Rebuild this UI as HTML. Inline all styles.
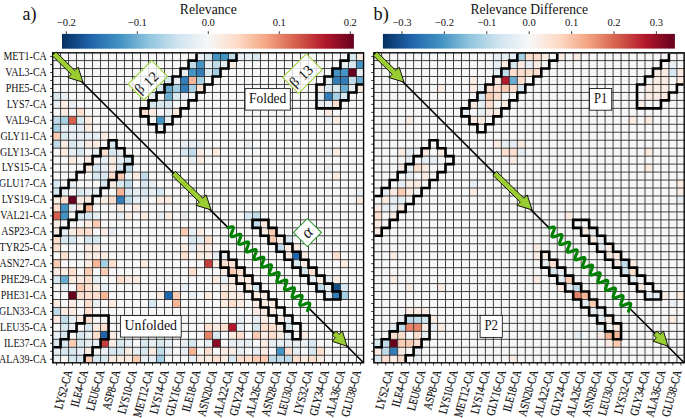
<!DOCTYPE html>
<html><head><meta charset="utf-8"><style>
html,body{margin:0;padding:0;background:#fff;width:685px;height:418px;overflow:hidden}
svg{display:block}
text{font-family:"Liberation Serif",serif;fill:#111}
.xl{stroke:#111;stroke-width:0.18px}
</style></head><body>
<svg width="685" height="418" viewBox="0 0 685 418">
<rect width="685" height="418" fill="#fff"/>
<clipPath id="clip52"><rect x="52.75" y="52.8" width="310.85" height="310"/></clipPath>
<g clip-path="url(#clip52)">
<rect x="52.57" y="52.62" width="311.88" height="310.6" fill="#f7f7f7"/>
<rect x="196.52" y="52.62" width="8.02" height="7.98" fill="#e7eff4"/>
<rect x="204.51" y="52.62" width="8.02" height="7.98" fill="#d7e8f1"/>
<rect x="212.51" y="52.62" width="8.02" height="7.98" fill="#4393c3"/>
<rect x="220.51" y="52.62" width="8.02" height="7.98" fill="#4393c3"/>
<rect x="228.5" y="52.62" width="8.02" height="7.98" fill="#c0dceb"/>
<rect x="236.5" y="52.62" width="8.02" height="7.98" fill="#e7eff4"/>
<rect x="244.5" y="52.62" width="8.02" height="7.98" fill="#e7eff4"/>
<rect x="252.5" y="52.62" width="8.02" height="7.98" fill="#d7e8f1"/>
<rect x="348.46" y="52.62" width="8.02" height="7.98" fill="#d7e8f1"/>
<rect x="356.46" y="52.62" width="8.02" height="7.98" fill="#faebe3"/>
<rect x="188.52" y="60.58" width="8.02" height="7.98" fill="#c0dceb"/>
<rect x="196.52" y="60.58" width="8.02" height="7.98" fill="#4393c3"/>
<rect x="204.51" y="60.58" width="8.02" height="7.98" fill="#e7eff4"/>
<rect x="212.51" y="60.58" width="8.02" height="7.98" fill="#c0dceb"/>
<rect x="220.51" y="60.58" width="8.02" height="7.98" fill="#e7eff4"/>
<rect x="228.5" y="60.58" width="8.02" height="7.98" fill="#faebe3"/>
<rect x="340.46" y="60.58" width="8.02" height="7.98" fill="#e7eff4"/>
<rect x="348.46" y="60.58" width="8.02" height="7.98" fill="#d7e8f1"/>
<rect x="356.46" y="60.58" width="8.02" height="7.98" fill="#4393c3"/>
<rect x="180.52" y="68.55" width="8.02" height="7.98" fill="#e7eff4"/>
<rect x="188.52" y="68.55" width="8.02" height="7.98" fill="#4393c3"/>
<rect x="196.52" y="68.55" width="8.02" height="7.98" fill="#327cb8"/>
<rect x="204.51" y="68.55" width="8.02" height="7.98" fill="#d7e8f1"/>
<rect x="212.51" y="68.55" width="8.02" height="7.98" fill="#a5cfe3"/>
<rect x="332.46" y="68.55" width="8.02" height="7.98" fill="#4393c3"/>
<rect x="340.46" y="68.55" width="8.02" height="7.98" fill="#4393c3"/>
<rect x="348.46" y="68.55" width="8.02" height="7.98" fill="#67001f"/>
<rect x="356.46" y="68.55" width="8.02" height="7.98" fill="#e7eff4"/>
<rect x="164.53" y="76.51" width="8.02" height="7.98" fill="#d7e8f1"/>
<rect x="172.53" y="76.51" width="8.02" height="7.98" fill="#e7eff4"/>
<rect x="180.52" y="76.51" width="8.02" height="7.98" fill="#327cb8"/>
<rect x="188.52" y="76.51" width="8.02" height="7.98" fill="#f7b597"/>
<rect x="196.52" y="76.51" width="8.02" height="7.98" fill="#a5cfe3"/>
<rect x="324.47" y="76.51" width="8.02" height="7.98" fill="#e7eff4"/>
<rect x="332.46" y="76.51" width="8.02" height="7.98" fill="#327cb8"/>
<rect x="340.46" y="76.51" width="8.02" height="7.98" fill="#327cb8"/>
<rect x="348.46" y="76.51" width="8.02" height="7.98" fill="#c0dceb"/>
<rect x="356.46" y="76.51" width="8.02" height="7.98" fill="#6aacd0"/>
<rect x="156.53" y="84.48" width="8.02" height="7.98" fill="#d7e8f1"/>
<rect x="164.53" y="84.48" width="8.02" height="7.98" fill="#6aacd0"/>
<rect x="172.53" y="84.48" width="8.02" height="7.98" fill="#a5cfe3"/>
<rect x="180.52" y="84.48" width="8.02" height="7.98" fill="#327cb8"/>
<rect x="188.52" y="84.48" width="8.02" height="7.98" fill="#a5cfe3"/>
<rect x="196.52" y="84.48" width="8.02" height="7.98" fill="#fcdfce"/>
<rect x="316.47" y="84.48" width="8.02" height="7.98" fill="#faebe3"/>
<rect x="324.47" y="84.48" width="8.02" height="7.98" fill="#d7e8f1"/>
<rect x="332.46" y="84.48" width="8.02" height="7.98" fill="#d7e8f1"/>
<rect x="340.46" y="84.48" width="8.02" height="7.98" fill="#6aacd0"/>
<rect x="348.46" y="84.48" width="8.02" height="7.98" fill="#e7eff4"/>
<rect x="356.46" y="84.48" width="8.02" height="7.98" fill="#faebe3"/>
<rect x="52.57" y="92.44" width="8.02" height="7.98" fill="#d7e8f1"/>
<rect x="60.57" y="92.44" width="8.02" height="7.98" fill="#e7eff4"/>
<rect x="148.53" y="92.44" width="8.02" height="7.98" fill="#e7eff4"/>
<rect x="164.53" y="92.44" width="8.02" height="7.98" fill="#6aacd0"/>
<rect x="172.53" y="92.44" width="8.02" height="7.98" fill="#d7e8f1"/>
<rect x="180.52" y="92.44" width="8.02" height="7.98" fill="#e7eff4"/>
<rect x="316.47" y="92.44" width="8.02" height="7.98" fill="#e7eff4"/>
<rect x="324.47" y="92.44" width="8.02" height="7.98" fill="#327cb8"/>
<rect x="332.46" y="92.44" width="8.02" height="7.98" fill="#a5cfe3"/>
<rect x="340.46" y="92.44" width="8.02" height="7.98" fill="#d7e8f1"/>
<rect x="52.57" y="100.4" width="8.02" height="7.98" fill="#e7eff4"/>
<rect x="60.57" y="100.4" width="8.02" height="7.98" fill="#faebe3"/>
<rect x="68.56" y="100.4" width="8.02" height="7.98" fill="#e7eff4"/>
<rect x="148.53" y="100.4" width="8.02" height="7.98" fill="#d7e8f1"/>
<rect x="156.53" y="100.4" width="8.02" height="7.98" fill="#d7e8f1"/>
<rect x="164.53" y="100.4" width="8.02" height="7.98" fill="#d7e8f1"/>
<rect x="316.47" y="100.4" width="8.02" height="7.98" fill="#e7eff4"/>
<rect x="324.47" y="100.4" width="8.02" height="7.98" fill="#e7eff4"/>
<rect x="332.46" y="100.4" width="8.02" height="7.98" fill="#fcdfce"/>
<rect x="60.57" y="108.37" width="8.02" height="7.98" fill="#faebe3"/>
<rect x="76.56" y="108.37" width="8.02" height="7.98" fill="#fcdfce"/>
<rect x="140.54" y="108.37" width="8.02" height="7.98" fill="#fcdfce"/>
<rect x="148.53" y="108.37" width="8.02" height="7.98" fill="#faebe3"/>
<rect x="164.53" y="108.37" width="8.02" height="7.98" fill="#e7eff4"/>
<rect x="172.53" y="108.37" width="8.02" height="7.98" fill="#faebe3"/>
<rect x="324.47" y="108.37" width="8.02" height="7.98" fill="#faebe3"/>
<rect x="52.57" y="116.33" width="8.02" height="7.98" fill="#c0dceb"/>
<rect x="60.57" y="116.33" width="8.02" height="7.98" fill="#a5cfe3"/>
<rect x="68.56" y="116.33" width="8.02" height="7.98" fill="#d6604d"/>
<rect x="76.56" y="116.33" width="8.02" height="7.98" fill="#d7e8f1"/>
<rect x="84.56" y="116.33" width="8.02" height="7.98" fill="#faebe3"/>
<rect x="156.53" y="116.33" width="8.02" height="7.98" fill="#4393c3"/>
<rect x="164.53" y="116.33" width="8.02" height="7.98" fill="#e7eff4"/>
<rect x="284.48" y="116.33" width="8.02" height="7.98" fill="#e7eff4"/>
<rect x="324.47" y="116.33" width="8.02" height="7.98" fill="#e7eff4"/>
<rect x="332.46" y="116.33" width="8.02" height="7.98" fill="#faebe3"/>
<rect x="52.57" y="124.3" width="8.02" height="7.98" fill="#a5cfe3"/>
<rect x="60.57" y="124.3" width="8.02" height="7.98" fill="#e7eff4"/>
<rect x="68.56" y="124.3" width="8.02" height="7.98" fill="#e7eff4"/>
<rect x="76.56" y="124.3" width="8.02" height="7.98" fill="#e7eff4"/>
<rect x="84.56" y="124.3" width="8.02" height="7.98" fill="#faebe3"/>
<rect x="156.53" y="124.3" width="8.02" height="7.98" fill="#e7eff4"/>
<rect x="52.57" y="132.26" width="8.02" height="7.98" fill="#fbccb4"/>
<rect x="60.57" y="132.26" width="8.02" height="7.98" fill="#d7e8f1"/>
<rect x="68.56" y="132.26" width="8.02" height="7.98" fill="#e7eff4"/>
<rect x="76.56" y="132.26" width="8.02" height="7.98" fill="#e7eff4"/>
<rect x="84.56" y="132.26" width="8.02" height="7.98" fill="#e7eff4"/>
<rect x="92.56" y="132.26" width="8.02" height="7.98" fill="#e7eff4"/>
<rect x="100.55" y="132.26" width="8.02" height="7.98" fill="#faebe3"/>
<rect x="52.57" y="140.22" width="8.02" height="7.98" fill="#c0dceb"/>
<rect x="60.57" y="140.22" width="8.02" height="7.98" fill="#faebe3"/>
<rect x="68.56" y="140.22" width="8.02" height="7.98" fill="#d7e8f1"/>
<rect x="76.56" y="140.22" width="8.02" height="7.98" fill="#e7eff4"/>
<rect x="84.56" y="140.22" width="8.02" height="7.98" fill="#faebe3"/>
<rect x="92.56" y="140.22" width="8.02" height="7.98" fill="#faebe3"/>
<rect x="108.55" y="140.22" width="8.02" height="7.98" fill="#d7e8f1"/>
<rect x="180.52" y="140.22" width="8.02" height="7.98" fill="#e7eff4"/>
<rect x="188.52" y="140.22" width="8.02" height="7.98" fill="#e7eff4"/>
<rect x="196.52" y="140.22" width="8.02" height="7.98" fill="#e7eff4"/>
<rect x="244.5" y="140.22" width="8.02" height="7.98" fill="#e7eff4"/>
<rect x="60.57" y="148.19" width="8.02" height="7.98" fill="#faebe3"/>
<rect x="68.56" y="148.19" width="8.02" height="7.98" fill="#e7eff4"/>
<rect x="76.56" y="148.19" width="8.02" height="7.98" fill="#d7e8f1"/>
<rect x="92.56" y="148.19" width="8.02" height="7.98" fill="#e7eff4"/>
<rect x="100.55" y="148.19" width="8.02" height="7.98" fill="#fcdfce"/>
<rect x="108.55" y="148.19" width="8.02" height="7.98" fill="#d7e8f1"/>
<rect x="116.55" y="148.19" width="8.02" height="7.98" fill="#e7eff4"/>
<rect x="180.52" y="148.19" width="8.02" height="7.98" fill="#d7e8f1"/>
<rect x="188.52" y="148.19" width="8.02" height="7.98" fill="#c0dceb"/>
<rect x="196.52" y="148.19" width="8.02" height="7.98" fill="#faebe3"/>
<rect x="212.51" y="148.19" width="8.02" height="7.98" fill="#faebe3"/>
<rect x="324.47" y="148.19" width="8.02" height="7.98" fill="#e7eff4"/>
<rect x="332.46" y="148.19" width="8.02" height="7.98" fill="#faebe3"/>
<rect x="68.56" y="156.15" width="8.02" height="7.98" fill="#faebe3"/>
<rect x="84.56" y="156.15" width="8.02" height="7.98" fill="#faebe3"/>
<rect x="100.55" y="156.15" width="8.02" height="7.98" fill="#e7eff4"/>
<rect x="108.55" y="156.15" width="8.02" height="7.98" fill="#faebe3"/>
<rect x="116.55" y="156.15" width="8.02" height="7.98" fill="#e7eff4"/>
<rect x="124.54" y="156.15" width="8.02" height="7.98" fill="#d7e8f1"/>
<rect x="188.52" y="156.15" width="8.02" height="7.98" fill="#e7eff4"/>
<rect x="196.52" y="156.15" width="8.02" height="7.98" fill="#faebe3"/>
<rect x="84.56" y="164.12" width="8.02" height="7.98" fill="#faebe3"/>
<rect x="92.56" y="164.12" width="8.02" height="7.98" fill="#d7e8f1"/>
<rect x="100.55" y="164.12" width="8.02" height="7.98" fill="#e7eff4"/>
<rect x="108.55" y="164.12" width="8.02" height="7.98" fill="#faebe3"/>
<rect x="116.55" y="164.12" width="8.02" height="7.98" fill="#d7e8f1"/>
<rect x="124.54" y="164.12" width="8.02" height="7.98" fill="#c0dceb"/>
<rect x="324.47" y="164.12" width="8.02" height="7.98" fill="#e7eff4"/>
<rect x="92.56" y="172.08" width="8.02" height="7.98" fill="#d7e8f1"/>
<rect x="100.55" y="172.08" width="8.02" height="7.98" fill="#d7e8f1"/>
<rect x="108.55" y="172.08" width="8.02" height="7.98" fill="#fcdfce"/>
<rect x="116.55" y="172.08" width="8.02" height="7.98" fill="#fbccb4"/>
<rect x="124.54" y="172.08" width="8.02" height="7.98" fill="#e7eff4"/>
<rect x="132.54" y="172.08" width="8.02" height="7.98" fill="#faebe3"/>
<rect x="140.54" y="172.08" width="8.02" height="7.98" fill="#c0dceb"/>
<rect x="332.46" y="172.08" width="8.02" height="7.98" fill="#faebe3"/>
<rect x="52.57" y="180.04" width="8.02" height="7.98" fill="#d7e8f1"/>
<rect x="68.56" y="180.04" width="8.02" height="7.98" fill="#e7eff4"/>
<rect x="100.55" y="180.04" width="8.02" height="7.98" fill="#d7e8f1"/>
<rect x="108.55" y="180.04" width="8.02" height="7.98" fill="#faebe3"/>
<rect x="116.55" y="180.04" width="8.02" height="7.98" fill="#d7e8f1"/>
<rect x="124.54" y="180.04" width="8.02" height="7.98" fill="#c0dceb"/>
<rect x="140.54" y="180.04" width="8.02" height="7.98" fill="#d7e8f1"/>
<rect x="148.53" y="180.04" width="8.02" height="7.98" fill="#e7eff4"/>
<rect x="52.57" y="188.01" width="8.02" height="7.98" fill="#d7e8f1"/>
<rect x="60.57" y="188.01" width="8.02" height="7.98" fill="#e7eff4"/>
<rect x="76.56" y="188.01" width="8.02" height="7.98" fill="#d7e8f1"/>
<rect x="84.56" y="188.01" width="8.02" height="7.98" fill="#e7eff4"/>
<rect x="92.56" y="188.01" width="8.02" height="7.98" fill="#e7eff4"/>
<rect x="116.55" y="188.01" width="8.02" height="7.98" fill="#f7b597"/>
<rect x="124.54" y="188.01" width="8.02" height="7.98" fill="#d7e8f1"/>
<rect x="132.54" y="188.01" width="8.02" height="7.98" fill="#e7eff4"/>
<rect x="140.54" y="188.01" width="8.02" height="7.98" fill="#d7e8f1"/>
<rect x="148.53" y="188.01" width="8.02" height="7.98" fill="#e7eff4"/>
<rect x="156.53" y="188.01" width="8.02" height="7.98" fill="#d7e8f1"/>
<rect x="356.46" y="188.01" width="8.02" height="7.98" fill="#e7eff4"/>
<rect x="52.57" y="195.97" width="8.02" height="7.98" fill="#faebe3"/>
<rect x="60.57" y="195.97" width="8.02" height="7.98" fill="#fcdfce"/>
<rect x="68.56" y="195.97" width="8.02" height="7.98" fill="#67001f"/>
<rect x="76.56" y="195.97" width="8.02" height="7.98" fill="#faebe3"/>
<rect x="84.56" y="195.97" width="8.02" height="7.98" fill="#faebe3"/>
<rect x="100.55" y="195.97" width="8.02" height="7.98" fill="#faebe3"/>
<rect x="108.55" y="195.97" width="8.02" height="7.98" fill="#fcdfce"/>
<rect x="116.55" y="195.97" width="8.02" height="7.98" fill="#327cb8"/>
<rect x="124.54" y="195.97" width="8.02" height="7.98" fill="#c0dceb"/>
<rect x="132.54" y="195.97" width="8.02" height="7.98" fill="#e7eff4"/>
<rect x="140.54" y="195.97" width="8.02" height="7.98" fill="#e7eff4"/>
<rect x="156.53" y="195.97" width="8.02" height="7.98" fill="#faebe3"/>
<rect x="164.53" y="195.97" width="8.02" height="7.98" fill="#faebe3"/>
<rect x="356.46" y="195.97" width="8.02" height="7.98" fill="#faebe3"/>
<rect x="52.57" y="203.94" width="8.02" height="7.98" fill="#fcdfce"/>
<rect x="60.57" y="203.94" width="8.02" height="7.98" fill="#4393c3"/>
<rect x="68.56" y="203.94" width="8.02" height="7.98" fill="#e7eff4"/>
<rect x="76.56" y="203.94" width="8.02" height="7.98" fill="#faebe3"/>
<rect x="84.56" y="203.94" width="8.02" height="7.98" fill="#f7b597"/>
<rect x="116.55" y="203.94" width="8.02" height="7.98" fill="#faebe3"/>
<rect x="132.54" y="203.94" width="8.02" height="7.98" fill="#faebe3"/>
<rect x="52.57" y="211.9" width="8.02" height="7.98" fill="#d6604d"/>
<rect x="60.57" y="211.9" width="8.02" height="7.98" fill="#4393c3"/>
<rect x="76.56" y="211.9" width="8.02" height="7.98" fill="#d7e8f1"/>
<rect x="84.56" y="211.9" width="8.02" height="7.98" fill="#d7e8f1"/>
<rect x="92.56" y="211.9" width="8.02" height="7.98" fill="#e7eff4"/>
<rect x="116.55" y="211.9" width="8.02" height="7.98" fill="#e7eff4"/>
<rect x="124.54" y="211.9" width="8.02" height="7.98" fill="#faebe3"/>
<rect x="140.54" y="211.9" width="8.02" height="7.98" fill="#faebe3"/>
<rect x="156.53" y="211.9" width="8.02" height="7.98" fill="#e7eff4"/>
<rect x="164.53" y="211.9" width="8.02" height="7.98" fill="#faebe3"/>
<rect x="180.52" y="211.9" width="8.02" height="7.98" fill="#e7eff4"/>
<rect x="244.5" y="211.9" width="8.02" height="7.98" fill="#d7e8f1"/>
<rect x="252.5" y="211.9" width="8.02" height="7.98" fill="#c0dceb"/>
<rect x="52.57" y="219.86" width="8.02" height="7.98" fill="#faebe3"/>
<rect x="84.56" y="219.86" width="8.02" height="7.98" fill="#faebe3"/>
<rect x="92.56" y="219.86" width="8.02" height="7.98" fill="#fbccb4"/>
<rect x="252.5" y="219.86" width="8.02" height="7.98" fill="#c0dceb"/>
<rect x="260.49" y="219.86" width="8.02" height="7.98" fill="#faebe3"/>
<rect x="52.57" y="227.83" width="8.02" height="7.98" fill="#faebe3"/>
<rect x="60.57" y="227.83" width="8.02" height="7.98" fill="#e7eff4"/>
<rect x="68.56" y="227.83" width="8.02" height="7.98" fill="#faebe3"/>
<rect x="76.56" y="227.83" width="8.02" height="7.98" fill="#fcdfce"/>
<rect x="84.56" y="227.83" width="8.02" height="7.98" fill="#fcdfce"/>
<rect x="100.55" y="227.83" width="8.02" height="7.98" fill="#faebe3"/>
<rect x="108.55" y="227.83" width="8.02" height="7.98" fill="#e7eff4"/>
<rect x="180.52" y="227.83" width="8.02" height="7.98" fill="#fbccb4"/>
<rect x="188.52" y="227.83" width="8.02" height="7.98" fill="#e7eff4"/>
<rect x="196.52" y="227.83" width="8.02" height="7.98" fill="#faebe3"/>
<rect x="260.49" y="227.83" width="8.02" height="7.98" fill="#faebe3"/>
<rect x="268.49" y="227.83" width="8.02" height="7.98" fill="#fbccb4"/>
<rect x="52.57" y="235.79" width="8.02" height="7.98" fill="#fcdfce"/>
<rect x="60.57" y="235.79" width="8.02" height="7.98" fill="#d7e8f1"/>
<rect x="68.56" y="235.79" width="8.02" height="7.98" fill="#d7e8f1"/>
<rect x="84.56" y="235.79" width="8.02" height="7.98" fill="#d7e8f1"/>
<rect x="92.56" y="235.79" width="8.02" height="7.98" fill="#d7e8f1"/>
<rect x="188.52" y="235.79" width="8.02" height="7.98" fill="#d7e8f1"/>
<rect x="196.52" y="235.79" width="8.02" height="7.98" fill="#e7eff4"/>
<rect x="204.51" y="235.79" width="8.02" height="7.98" fill="#fcdfce"/>
<rect x="268.49" y="235.79" width="8.02" height="7.98" fill="#fbccb4"/>
<rect x="276.49" y="235.79" width="8.02" height="7.98" fill="#faebe3"/>
<rect x="284.48" y="235.79" width="8.02" height="7.98" fill="#d7e8f1"/>
<rect x="52.57" y="243.76" width="8.02" height="7.98" fill="#fcdfce"/>
<rect x="84.56" y="243.76" width="8.02" height="7.98" fill="#faebe3"/>
<rect x="92.56" y="243.76" width="8.02" height="7.98" fill="#faebe3"/>
<rect x="180.52" y="243.76" width="8.02" height="7.98" fill="#faebe3"/>
<rect x="188.52" y="243.76" width="8.02" height="7.98" fill="#e7eff4"/>
<rect x="196.52" y="243.76" width="8.02" height="7.98" fill="#faebe3"/>
<rect x="204.51" y="243.76" width="8.02" height="7.98" fill="#faebe3"/>
<rect x="276.49" y="243.76" width="8.02" height="7.98" fill="#c0dceb"/>
<rect x="284.48" y="243.76" width="8.02" height="7.98" fill="#faebe3"/>
<rect x="292.48" y="243.76" width="8.02" height="7.98" fill="#faebe3"/>
<rect x="60.57" y="251.72" width="8.02" height="7.98" fill="#fcdfce"/>
<rect x="84.56" y="251.72" width="8.02" height="7.98" fill="#faebe3"/>
<rect x="92.56" y="251.72" width="8.02" height="7.98" fill="#faebe3"/>
<rect x="100.55" y="251.72" width="8.02" height="7.98" fill="#faebe3"/>
<rect x="180.52" y="251.72" width="8.02" height="7.98" fill="#fcdfce"/>
<rect x="196.52" y="251.72" width="8.02" height="7.98" fill="#faebe3"/>
<rect x="204.51" y="251.72" width="8.02" height="7.98" fill="#faebe3"/>
<rect x="212.51" y="251.72" width="8.02" height="7.98" fill="#e7eff4"/>
<rect x="220.51" y="251.72" width="8.02" height="7.98" fill="#e7eff4"/>
<rect x="284.48" y="251.72" width="8.02" height="7.98" fill="#faebe3"/>
<rect x="292.48" y="251.72" width="8.02" height="7.98" fill="#2166ac"/>
<rect x="300.48" y="251.72" width="8.02" height="7.98" fill="#faebe3"/>
<rect x="332.46" y="251.72" width="8.02" height="7.98" fill="#fcdfce"/>
<rect x="52.57" y="259.68" width="8.02" height="7.98" fill="#fbccb4"/>
<rect x="84.56" y="259.68" width="8.02" height="7.98" fill="#faebe3"/>
<rect x="92.56" y="259.68" width="8.02" height="7.98" fill="#f7b597"/>
<rect x="100.55" y="259.68" width="8.02" height="7.98" fill="#a5cfe3"/>
<rect x="108.55" y="259.68" width="8.02" height="7.98" fill="#fcdfce"/>
<rect x="140.54" y="259.68" width="8.02" height="7.98" fill="#faebe3"/>
<rect x="204.51" y="259.68" width="8.02" height="7.98" fill="#c43c3c"/>
<rect x="212.51" y="259.68" width="8.02" height="7.98" fill="#faebe3"/>
<rect x="220.51" y="259.68" width="8.02" height="7.98" fill="#fcdfce"/>
<rect x="228.5" y="259.68" width="8.02" height="7.98" fill="#fcdfce"/>
<rect x="292.48" y="259.68" width="8.02" height="7.98" fill="#d7e8f1"/>
<rect x="300.48" y="259.68" width="8.02" height="7.98" fill="#faebe3"/>
<rect x="340.46" y="259.68" width="8.02" height="7.98" fill="#faebe3"/>
<rect x="52.57" y="267.65" width="8.02" height="7.98" fill="#faebe3"/>
<rect x="60.57" y="267.65" width="8.02" height="7.98" fill="#faebe3"/>
<rect x="68.56" y="267.65" width="8.02" height="7.98" fill="#fcdfce"/>
<rect x="84.56" y="267.65" width="8.02" height="7.98" fill="#fbccb4"/>
<rect x="100.55" y="267.65" width="8.02" height="7.98" fill="#fbccb4"/>
<rect x="188.52" y="267.65" width="8.02" height="7.98" fill="#fcdfce"/>
<rect x="220.51" y="267.65" width="8.02" height="7.98" fill="#faebe3"/>
<rect x="228.5" y="267.65" width="8.02" height="7.98" fill="#fbccb4"/>
<rect x="236.5" y="267.65" width="8.02" height="7.98" fill="#fcdfce"/>
<rect x="300.48" y="267.65" width="8.02" height="7.98" fill="#d7e8f1"/>
<rect x="308.47" y="267.65" width="8.02" height="7.98" fill="#fcdfce"/>
<rect x="52.57" y="275.61" width="8.02" height="7.98" fill="#d7e8f1"/>
<rect x="60.57" y="275.61" width="8.02" height="7.98" fill="#6aacd0"/>
<rect x="68.56" y="275.61" width="8.02" height="7.98" fill="#faebe3"/>
<rect x="76.56" y="275.61" width="8.02" height="7.98" fill="#faebe3"/>
<rect x="84.56" y="275.61" width="8.02" height="7.98" fill="#fcdfce"/>
<rect x="92.56" y="275.61" width="8.02" height="7.98" fill="#e7eff4"/>
<rect x="116.55" y="275.61" width="8.02" height="7.98" fill="#fcdfce"/>
<rect x="124.54" y="275.61" width="8.02" height="7.98" fill="#faebe3"/>
<rect x="132.54" y="275.61" width="8.02" height="7.98" fill="#faebe3"/>
<rect x="212.51" y="275.61" width="8.02" height="7.98" fill="#faebe3"/>
<rect x="220.51" y="275.61" width="8.02" height="7.98" fill="#e7eff4"/>
<rect x="228.5" y="275.61" width="8.02" height="7.98" fill="#faebe3"/>
<rect x="236.5" y="275.61" width="8.02" height="7.98" fill="#faebe3"/>
<rect x="244.5" y="275.61" width="8.02" height="7.98" fill="#faebe3"/>
<rect x="308.47" y="275.61" width="8.02" height="7.98" fill="#e7eff4"/>
<rect x="316.47" y="275.61" width="8.02" height="7.98" fill="#faebe3"/>
<rect x="324.47" y="275.61" width="8.02" height="7.98" fill="#e7eff4"/>
<rect x="332.46" y="275.61" width="8.02" height="7.98" fill="#faebe3"/>
<rect x="60.57" y="283.58" width="8.02" height="7.98" fill="#e7eff4"/>
<rect x="76.56" y="283.58" width="8.02" height="7.98" fill="#fbccb4"/>
<rect x="84.56" y="283.58" width="8.02" height="7.98" fill="#fcdfce"/>
<rect x="92.56" y="283.58" width="8.02" height="7.98" fill="#faebe3"/>
<rect x="100.55" y="283.58" width="8.02" height="7.98" fill="#e7eff4"/>
<rect x="180.52" y="283.58" width="8.02" height="7.98" fill="#e7eff4"/>
<rect x="220.51" y="283.58" width="8.02" height="7.98" fill="#faebe3"/>
<rect x="228.5" y="283.58" width="8.02" height="7.98" fill="#faebe3"/>
<rect x="244.5" y="283.58" width="8.02" height="7.98" fill="#faebe3"/>
<rect x="252.5" y="283.58" width="8.02" height="7.98" fill="#d7e8f1"/>
<rect x="316.47" y="283.58" width="8.02" height="7.98" fill="#c0dceb"/>
<rect x="324.47" y="283.58" width="8.02" height="7.98" fill="#e7eff4"/>
<rect x="332.46" y="283.58" width="8.02" height="7.98" fill="#134b86"/>
<rect x="340.46" y="283.58" width="8.02" height="7.98" fill="#d7e8f1"/>
<rect x="68.56" y="291.54" width="8.02" height="7.98" fill="#67001f"/>
<rect x="76.56" y="291.54" width="8.02" height="7.98" fill="#fcdfce"/>
<rect x="84.56" y="291.54" width="8.02" height="7.98" fill="#fcdfce"/>
<rect x="92.56" y="291.54" width="8.02" height="7.98" fill="#fcdfce"/>
<rect x="100.55" y="291.54" width="8.02" height="7.98" fill="#f7b597"/>
<rect x="156.53" y="291.54" width="8.02" height="7.98" fill="#faebe3"/>
<rect x="164.53" y="291.54" width="8.02" height="7.98" fill="#2166ac"/>
<rect x="172.53" y="291.54" width="8.02" height="7.98" fill="#fbccb4"/>
<rect x="188.52" y="291.54" width="8.02" height="7.98" fill="#e7eff4"/>
<rect x="204.51" y="291.54" width="8.02" height="7.98" fill="#faebe3"/>
<rect x="220.51" y="291.54" width="8.02" height="7.98" fill="#fcdfce"/>
<rect x="228.5" y="291.54" width="8.02" height="7.98" fill="#faebe3"/>
<rect x="236.5" y="291.54" width="8.02" height="7.98" fill="#faebe3"/>
<rect x="252.5" y="291.54" width="8.02" height="7.98" fill="#faebe3"/>
<rect x="260.49" y="291.54" width="8.02" height="7.98" fill="#faebe3"/>
<rect x="324.47" y="291.54" width="8.02" height="7.98" fill="#e7eff4"/>
<rect x="332.46" y="291.54" width="8.02" height="7.98" fill="#327cb8"/>
<rect x="340.46" y="291.54" width="8.02" height="7.98" fill="#a5cfe3"/>
<rect x="52.57" y="299.5" width="8.02" height="7.98" fill="#faebe3"/>
<rect x="68.56" y="299.5" width="8.02" height="7.98" fill="#faebe3"/>
<rect x="84.56" y="299.5" width="8.02" height="7.98" fill="#fcdfce"/>
<rect x="92.56" y="299.5" width="8.02" height="7.98" fill="#e7eff4"/>
<rect x="108.55" y="299.5" width="8.02" height="7.98" fill="#faebe3"/>
<rect x="148.53" y="299.5" width="8.02" height="7.98" fill="#d7e8f1"/>
<rect x="172.53" y="299.5" width="8.02" height="7.98" fill="#f7b597"/>
<rect x="220.51" y="299.5" width="8.02" height="7.98" fill="#faebe3"/>
<rect x="228.5" y="299.5" width="8.02" height="7.98" fill="#fcdfce"/>
<rect x="236.5" y="299.5" width="8.02" height="7.98" fill="#faebe3"/>
<rect x="252.5" y="299.5" width="8.02" height="7.98" fill="#faebe3"/>
<rect x="260.49" y="299.5" width="8.02" height="7.98" fill="#faebe3"/>
<rect x="268.49" y="299.5" width="8.02" height="7.98" fill="#faebe3"/>
<rect x="52.57" y="307.47" width="8.02" height="7.98" fill="#c0dceb"/>
<rect x="60.57" y="307.47" width="8.02" height="7.98" fill="#faebe3"/>
<rect x="68.56" y="307.47" width="8.02" height="7.98" fill="#faebe3"/>
<rect x="84.56" y="307.47" width="8.02" height="7.98" fill="#fcdfce"/>
<rect x="252.5" y="307.47" width="8.02" height="7.98" fill="#faebe3"/>
<rect x="260.49" y="307.47" width="8.02" height="7.98" fill="#faebe3"/>
<rect x="268.49" y="307.47" width="8.02" height="7.98" fill="#faebe3"/>
<rect x="52.57" y="315.43" width="8.02" height="7.98" fill="#faebe3"/>
<rect x="60.57" y="315.43" width="8.02" height="7.98" fill="#c0dceb"/>
<rect x="68.56" y="315.43" width="8.02" height="7.98" fill="#e7eff4"/>
<rect x="76.56" y="315.43" width="8.02" height="7.98" fill="#faebe3"/>
<rect x="84.56" y="315.43" width="8.02" height="7.98" fill="#fcdfce"/>
<rect x="236.5" y="315.43" width="8.02" height="7.98" fill="#e7eff4"/>
<rect x="252.5" y="315.43" width="8.02" height="7.98" fill="#e7eff4"/>
<rect x="260.49" y="315.43" width="8.02" height="7.98" fill="#faebe3"/>
<rect x="276.49" y="315.43" width="8.02" height="7.98" fill="#faebe3"/>
<rect x="284.48" y="315.43" width="8.02" height="7.98" fill="#e7eff4"/>
<rect x="60.57" y="323.4" width="8.02" height="7.98" fill="#d7e8f1"/>
<rect x="68.56" y="323.4" width="8.02" height="7.98" fill="#e7eff4"/>
<rect x="84.56" y="323.4" width="8.02" height="7.98" fill="#d7e8f1"/>
<rect x="92.56" y="323.4" width="8.02" height="7.98" fill="#faebe3"/>
<rect x="100.55" y="323.4" width="8.02" height="7.98" fill="#fcdfce"/>
<rect x="204.51" y="323.4" width="8.02" height="7.98" fill="#fcdfce"/>
<rect x="212.51" y="323.4" width="8.02" height="7.98" fill="#faebe3"/>
<rect x="220.51" y="323.4" width="8.02" height="7.98" fill="#fcdfce"/>
<rect x="228.5" y="323.4" width="8.02" height="7.98" fill="#b2182b"/>
<rect x="236.5" y="323.4" width="8.02" height="7.98" fill="#e7eff4"/>
<rect x="252.5" y="323.4" width="8.02" height="7.98" fill="#d7e8f1"/>
<rect x="260.49" y="323.4" width="8.02" height="7.98" fill="#fcdfce"/>
<rect x="268.49" y="323.4" width="8.02" height="7.98" fill="#fcdfce"/>
<rect x="276.49" y="323.4" width="8.02" height="7.98" fill="#faebe3"/>
<rect x="284.48" y="323.4" width="8.02" height="7.98" fill="#d7e8f1"/>
<rect x="52.57" y="331.36" width="8.02" height="7.98" fill="#e7eff4"/>
<rect x="60.57" y="331.36" width="8.02" height="7.98" fill="#d7e8f1"/>
<rect x="76.56" y="331.36" width="8.02" height="7.98" fill="#d7e8f1"/>
<rect x="84.56" y="331.36" width="8.02" height="7.98" fill="#e7eff4"/>
<rect x="92.56" y="331.36" width="8.02" height="7.98" fill="#fcdfce"/>
<rect x="100.55" y="331.36" width="8.02" height="7.98" fill="#2166ac"/>
<rect x="108.55" y="331.36" width="8.02" height="7.98" fill="#faebe3"/>
<rect x="204.51" y="331.36" width="8.02" height="7.98" fill="#e58268"/>
<rect x="212.51" y="331.36" width="8.02" height="7.98" fill="#d7e8f1"/>
<rect x="228.5" y="331.36" width="8.02" height="7.98" fill="#faebe3"/>
<rect x="236.5" y="331.36" width="8.02" height="7.98" fill="#fcdfce"/>
<rect x="252.5" y="331.36" width="8.02" height="7.98" fill="#fbccb4"/>
<rect x="260.49" y="331.36" width="8.02" height="7.98" fill="#faebe3"/>
<rect x="268.49" y="331.36" width="8.02" height="7.98" fill="#fcdfce"/>
<rect x="276.49" y="331.36" width="8.02" height="7.98" fill="#faebe3"/>
<rect x="284.48" y="331.36" width="8.02" height="7.98" fill="#e7eff4"/>
<rect x="300.48" y="331.36" width="8.02" height="7.98" fill="#faebe3"/>
<rect x="52.57" y="339.32" width="8.02" height="7.98" fill="#d7e8f1"/>
<rect x="60.57" y="339.32" width="8.02" height="7.98" fill="#d7e8f1"/>
<rect x="68.56" y="339.32" width="8.02" height="7.98" fill="#fbccb4"/>
<rect x="76.56" y="339.32" width="8.02" height="7.98" fill="#d7e8f1"/>
<rect x="84.56" y="339.32" width="8.02" height="7.98" fill="#e7eff4"/>
<rect x="92.56" y="339.32" width="8.02" height="7.98" fill="#e7eff4"/>
<rect x="100.55" y="339.32" width="8.02" height="7.98" fill="#c43c3c"/>
<rect x="108.55" y="339.32" width="8.02" height="7.98" fill="#faebe3"/>
<rect x="116.55" y="339.32" width="8.02" height="7.98" fill="#d7e8f1"/>
<rect x="124.54" y="339.32" width="8.02" height="7.98" fill="#e7eff4"/>
<rect x="140.54" y="339.32" width="8.02" height="7.98" fill="#d7e8f1"/>
<rect x="148.53" y="339.32" width="8.02" height="7.98" fill="#e7eff4"/>
<rect x="156.53" y="339.32" width="8.02" height="7.98" fill="#d7e8f1"/>
<rect x="164.53" y="339.32" width="8.02" height="7.98" fill="#e7eff4"/>
<rect x="180.52" y="339.32" width="8.02" height="7.98" fill="#e7eff4"/>
<rect x="188.52" y="339.32" width="8.02" height="7.98" fill="#d7e8f1"/>
<rect x="204.51" y="339.32" width="8.02" height="7.98" fill="#e7eff4"/>
<rect x="212.51" y="339.32" width="8.02" height="7.98" fill="#8c0c25"/>
<rect x="228.5" y="339.32" width="8.02" height="7.98" fill="#e7eff4"/>
<rect x="236.5" y="339.32" width="8.02" height="7.98" fill="#e7eff4"/>
<rect x="244.5" y="339.32" width="8.02" height="7.98" fill="#e7eff4"/>
<rect x="260.49" y="339.32" width="8.02" height="7.98" fill="#faebe3"/>
<rect x="268.49" y="339.32" width="8.02" height="7.98" fill="#e7eff4"/>
<rect x="276.49" y="339.32" width="8.02" height="7.98" fill="#e7eff4"/>
<rect x="284.48" y="339.32" width="8.02" height="7.98" fill="#e7eff4"/>
<rect x="292.48" y="339.32" width="8.02" height="7.98" fill="#e7eff4"/>
<rect x="300.48" y="339.32" width="8.02" height="7.98" fill="#e7eff4"/>
<rect x="308.47" y="339.32" width="8.02" height="7.98" fill="#d7e8f1"/>
<rect x="52.57" y="347.29" width="8.02" height="7.98" fill="#e7eff4"/>
<rect x="60.57" y="347.29" width="8.02" height="7.98" fill="#d7e8f1"/>
<rect x="68.56" y="347.29" width="8.02" height="7.98" fill="#d7e8f1"/>
<rect x="76.56" y="347.29" width="8.02" height="7.98" fill="#e7eff4"/>
<rect x="84.56" y="347.29" width="8.02" height="7.98" fill="#faebe3"/>
<rect x="100.55" y="347.29" width="8.02" height="7.98" fill="#e7eff4"/>
<rect x="108.55" y="347.29" width="8.02" height="7.98" fill="#d7e8f1"/>
<rect x="116.55" y="347.29" width="8.02" height="7.98" fill="#d7e8f1"/>
<rect x="124.54" y="347.29" width="8.02" height="7.98" fill="#faebe3"/>
<rect x="132.54" y="347.29" width="8.02" height="7.98" fill="#e7eff4"/>
<rect x="140.54" y="347.29" width="8.02" height="7.98" fill="#d7e8f1"/>
<rect x="148.53" y="347.29" width="8.02" height="7.98" fill="#faebe3"/>
<rect x="156.53" y="347.29" width="8.02" height="7.98" fill="#c0dceb"/>
<rect x="164.53" y="347.29" width="8.02" height="7.98" fill="#e7eff4"/>
<rect x="180.52" y="347.29" width="8.02" height="7.98" fill="#e7eff4"/>
<rect x="188.52" y="347.29" width="8.02" height="7.98" fill="#f7b597"/>
<rect x="204.51" y="347.29" width="8.02" height="7.98" fill="#fcdfce"/>
<rect x="220.51" y="347.29" width="8.02" height="7.98" fill="#faebe3"/>
<rect x="228.5" y="347.29" width="8.02" height="7.98" fill="#faebe3"/>
<rect x="236.5" y="347.29" width="8.02" height="7.98" fill="#e7eff4"/>
<rect x="252.5" y="347.29" width="8.02" height="7.98" fill="#e7eff4"/>
<rect x="260.49" y="347.29" width="8.02" height="7.98" fill="#faebe3"/>
<rect x="276.49" y="347.29" width="8.02" height="7.98" fill="#4393c3"/>
<rect x="284.48" y="347.29" width="8.02" height="7.98" fill="#fcdfce"/>
<rect x="292.48" y="347.29" width="8.02" height="7.98" fill="#e7eff4"/>
<rect x="308.47" y="347.29" width="8.02" height="7.98" fill="#d7e8f1"/>
<rect x="316.47" y="347.29" width="8.02" height="7.98" fill="#fcdfce"/>
<rect x="52.57" y="355.25" width="8.02" height="7.98" fill="#e7eff4"/>
<rect x="68.56" y="355.25" width="8.02" height="7.98" fill="#d7e8f1"/>
<rect x="76.56" y="355.25" width="8.02" height="7.98" fill="#d7e8f1"/>
<rect x="84.56" y="355.25" width="8.02" height="7.98" fill="#fbccb4"/>
<rect x="92.56" y="355.25" width="8.02" height="7.98" fill="#d7e8f1"/>
<rect x="100.55" y="355.25" width="8.02" height="7.98" fill="#d7e8f1"/>
<rect x="108.55" y="355.25" width="8.02" height="7.98" fill="#faebe3"/>
<rect x="116.55" y="355.25" width="8.02" height="7.98" fill="#faebe3"/>
<rect x="124.54" y="355.25" width="8.02" height="7.98" fill="#faebe3"/>
<rect x="132.54" y="355.25" width="8.02" height="7.98" fill="#fbccb4"/>
<rect x="140.54" y="355.25" width="8.02" height="7.98" fill="#e7eff4"/>
<rect x="148.53" y="355.25" width="8.02" height="7.98" fill="#e7eff4"/>
<rect x="156.53" y="355.25" width="8.02" height="7.98" fill="#a5cfe3"/>
<rect x="188.52" y="355.25" width="8.02" height="7.98" fill="#e7eff4"/>
<rect x="196.52" y="355.25" width="8.02" height="7.98" fill="#faebe3"/>
<rect x="204.51" y="355.25" width="8.02" height="7.98" fill="#faebe3"/>
<rect x="212.51" y="355.25" width="8.02" height="7.98" fill="#fcdfce"/>
<rect x="220.51" y="355.25" width="8.02" height="7.98" fill="#faebe3"/>
<rect x="228.5" y="355.25" width="8.02" height="7.98" fill="#d7e8f1"/>
<rect x="236.5" y="355.25" width="8.02" height="7.98" fill="#fcdfce"/>
<rect x="244.5" y="355.25" width="8.02" height="7.98" fill="#fcdfce"/>
<rect x="252.5" y="355.25" width="8.02" height="7.98" fill="#fbccb4"/>
<rect x="260.49" y="355.25" width="8.02" height="7.98" fill="#fbccb4"/>
<rect x="268.49" y="355.25" width="8.02" height="7.98" fill="#c0dceb"/>
<rect x="276.49" y="355.25" width="8.02" height="7.98" fill="#c0dceb"/>
<rect x="284.48" y="355.25" width="8.02" height="7.98" fill="#c0dceb"/>
<rect x="292.48" y="355.25" width="8.02" height="7.98" fill="#fcdfce"/>
<rect x="300.48" y="355.25" width="8.02" height="7.98" fill="#faebe3"/>
<rect x="308.47" y="355.25" width="8.02" height="7.98" fill="#fcdfce"/>
<rect x="316.47" y="355.25" width="8.02" height="7.98" fill="#faebe3"/>
<path d="M60.57 52.62V363.22M52.57 60.58H364.45M68.56 52.62V363.22M52.57 68.55H364.45M76.56 52.62V363.22M52.57 76.51H364.45M84.56 52.62V363.22M52.57 84.48H364.45M92.56 52.62V363.22M52.57 92.44H364.45M100.55 52.62V363.22M52.57 100.4H364.45M108.55 52.62V363.22M52.57 108.37H364.45M116.55 52.62V363.22M52.57 116.33H364.45M124.54 52.62V363.22M52.57 124.3H364.45M132.54 52.62V363.22M52.57 132.26H364.45M140.54 52.62V363.22M52.57 140.22H364.45M148.53 52.62V363.22M52.57 148.19H364.45M156.53 52.62V363.22M52.57 156.15H364.45M164.53 52.62V363.22M52.57 164.12H364.45M172.53 52.62V363.22M52.57 172.08H364.45M180.52 52.62V363.22M52.57 180.04H364.45M188.52 52.62V363.22M52.57 188.01H364.45M196.52 52.62V363.22M52.57 195.97H364.45M204.51 52.62V363.22M52.57 203.94H364.45M212.51 52.62V363.22M52.57 211.9H364.45M220.51 52.62V363.22M52.57 219.86H364.45M228.5 52.62V363.22M52.57 227.83H364.45M236.5 52.62V363.22M52.57 235.79H364.45M244.5 52.62V363.22M52.57 243.76H364.45M252.5 52.62V363.22M52.57 251.72H364.45M260.49 52.62V363.22M52.57 259.68H364.45M268.49 52.62V363.22M52.57 267.65H364.45M276.49 52.62V363.22M52.57 275.61H364.45M284.48 52.62V363.22M52.57 283.58H364.45M292.48 52.62V363.22M52.57 291.54H364.45M300.48 52.62V363.22M52.57 299.5H364.45M308.47 52.62V363.22M52.57 307.47H364.45M316.47 52.62V363.22M52.57 315.43H364.45M324.47 52.62V363.22M52.57 323.4H364.45M332.46 52.62V363.22M52.57 331.36H364.45M340.46 52.62V363.22M52.57 339.32H364.45M348.46 52.62V363.22M52.57 347.29H364.45M356.46 52.62V363.22M52.57 355.25H364.45" stroke="#262626" stroke-width="0.85" fill="none"/>
</g>
<clipPath id="clipo52"><rect x="53.5" y="53.55" width="309.35" height="308.5"/></clipPath>
<g clip-path="url(#clipo52)">
<path d="M148.53 100.4L156.53 100.4L156.53 92.44L164.53 92.44L164.53 84.48L172.53 84.48L172.53 76.51L180.52 76.51L180.52 68.55L188.52 68.55L188.52 60.58L196.52 60.58L196.52 52.62L236.5 52.62L236.5 60.58L228.5 60.58L228.5 68.55L220.51 68.55L220.51 76.51L212.51 76.51L212.51 84.48L204.51 84.48L204.51 92.44L196.52 92.44L196.52 100.4L188.52 100.4L188.52 108.37L180.52 108.37L180.52 116.33L172.53 116.33L172.53 124.3L164.53 124.3L164.53 132.26L156.53 132.26L156.53 124.3L148.53 124.3L148.53 116.33L140.54 116.33L140.54 108.37L148.53 108.37Z" stroke="#000" stroke-width="2.6" fill="none" stroke-linejoin="miter"/>
<path d="M84.56 164.12L92.56 164.12L92.56 156.15L100.55 156.15L100.55 148.19L108.55 148.19L108.55 140.22L116.55 140.22L116.55 148.19L124.54 148.19L124.54 156.15L132.54 156.15L132.54 164.12L124.54 164.12L124.54 172.08L116.55 172.08L116.55 180.04L108.55 180.04L108.55 188.01L100.55 188.01L100.55 195.97L92.56 195.97L92.56 203.94L84.56 203.94L84.56 211.9L76.56 211.9L76.56 219.86L68.56 219.86L68.56 227.83L60.57 227.83L60.57 235.79L52.57 235.79L52.57 195.97L60.57 195.97L60.57 188.01L68.56 188.01L68.56 180.04L76.56 180.04L76.56 172.08L84.56 172.08Z" stroke="#000" stroke-width="2.6" fill="none" stroke-linejoin="miter"/>
<path d="M316.47 108.37L316.47 84.48L324.47 84.48L324.47 76.51L332.46 76.51L332.46 68.55L340.46 68.55L340.46 60.58L348.46 60.58L348.46 52.62L364.45 52.62L364.45 84.48L356.46 84.48L356.46 92.44L348.46 92.44L348.46 100.4L340.46 100.4L340.46 108.37Z" stroke="#000" stroke-width="2.6" fill="none" stroke-linejoin="miter"/>
<path d="M52.57 347.29L60.57 347.29L60.57 339.32L68.56 339.32L68.56 331.36L76.56 331.36L76.56 323.4L84.56 323.4L84.56 315.43L108.55 315.43L108.55 339.32L100.55 339.32L100.55 347.29L92.56 347.29L92.56 355.25L84.56 355.25L84.56 363.22L52.57 363.22Z" stroke="#000" stroke-width="2.6" fill="none" stroke-linejoin="miter"/>
<path d="M292.48 259.68L284.48 259.68L284.48 251.72L276.49 251.72L276.49 243.76L268.49 243.76L268.49 235.79L260.49 235.79L260.49 227.83L252.5 227.83L252.5 219.86L268.49 219.86L268.49 227.83L276.49 227.83L276.49 235.79L284.48 235.79L284.48 243.76L292.48 243.76L292.48 251.72L300.48 251.72L300.48 259.68L308.47 259.68L308.47 267.65L316.47 267.65L316.47 275.61L324.47 275.61L324.47 283.58L332.46 283.58L332.46 291.54L340.46 291.54L340.46 299.5L324.47 299.5L324.47 291.54L316.47 291.54L316.47 283.58L308.47 283.58L308.47 275.61L300.48 275.61L300.48 267.65L292.48 267.65Z" stroke="#000" stroke-width="2.6" fill="none" stroke-linejoin="miter"/>
<path d="M300.48 339.32L292.48 339.32L292.48 331.36L284.48 331.36L284.48 323.4L276.49 323.4L276.49 315.43L268.49 315.43L268.49 307.47L260.49 307.47L260.49 299.5L252.5 299.5L252.5 291.54L244.5 291.54L244.5 283.58L236.5 283.58L236.5 275.61L228.5 275.61L228.5 267.65L220.51 267.65L220.51 251.72L228.5 251.72L228.5 259.68L236.5 259.68L236.5 267.65L244.5 267.65L244.5 275.61L252.5 275.61L252.5 283.58L260.49 283.58L260.49 291.54L268.49 291.54L268.49 299.5L276.49 299.5L276.49 307.47L284.48 307.47L284.48 315.43L292.48 315.43L292.48 323.4L300.48 323.4Z" stroke="#000" stroke-width="2.6" fill="none" stroke-linejoin="miter"/>
</g>
<rect x="52.75" y="52.8" width="310.85" height="310" fill="none" stroke="#000" stroke-width="1.35"/>
<path d="M50.15 56.6H52.75M56.57 362.8V365.4M50.15 64.57H52.75M64.57 362.8V365.4M50.15 72.53H52.75M72.56 362.8V365.4M50.15 80.49H52.75M80.56 362.8V365.4M50.15 88.46H52.75M88.56 362.8V365.4M50.15 96.42H52.75M96.55 362.8V365.4M50.15 104.39H52.75M104.55 362.8V365.4M50.15 112.35H52.75M112.55 362.8V365.4M50.15 120.31H52.75M120.54 362.8V365.4M50.15 128.28H52.75M128.54 362.8V365.4M50.15 136.24H52.75M136.54 362.8V365.4M50.15 144.21H52.75M144.54 362.8V365.4M50.15 152.17H52.75M152.53 362.8V365.4M50.15 160.13H52.75M160.53 362.8V365.4M50.15 168.1H52.75M168.53 362.8V365.4M50.15 176.06H52.75M176.52 362.8V365.4M50.15 184.03H52.75M184.52 362.8V365.4M50.15 191.99H52.75M192.52 362.8V365.4M50.15 199.95H52.75M200.51 362.8V365.4M50.15 207.92H52.75M208.51 362.8V365.4M50.15 215.88H52.75M216.51 362.8V365.4M50.15 223.85H52.75M224.51 362.8V365.4M50.15 231.81H52.75M232.5 362.8V365.4M50.15 239.77H52.75M240.5 362.8V365.4M50.15 247.74H52.75M248.5 362.8V365.4M50.15 255.7H52.75M256.49 362.8V365.4M50.15 263.67H52.75M264.49 362.8V365.4M50.15 271.63H52.75M272.49 362.8V365.4M50.15 279.59H52.75M280.48 362.8V365.4M50.15 287.56H52.75M288.48 362.8V365.4M50.15 295.52H52.75M296.48 362.8V365.4M50.15 303.49H52.75M304.48 362.8V365.4M50.15 311.45H52.75M312.47 362.8V365.4M50.15 319.41H52.75M320.47 362.8V365.4M50.15 327.38H52.75M328.47 362.8V365.4M50.15 335.34H52.75M336.46 362.8V365.4M50.15 343.31H52.75M344.46 362.8V365.4M50.15 351.27H52.75M352.46 362.8V365.4M50.15 359.23H52.75M360.45 362.8V365.4" stroke="#000" stroke-width="0.8" fill="none"/>
<path d="M52.75 52.8L228.3 227.87M309.5 308.85L363.6 362.8" stroke="#000" stroke-width="1.6" fill="none"/>
<path d="M228.3 227.87L228.97 227.6L229.63 227.35L230.26 227.12L230.86 226.93L231.41 226.78L231.9 226.7L232.32 226.68L232.67 226.74L232.94 226.87L233.14 227.08L233.26 227.36L233.3 227.73L233.27 228.16L233.18 228.66L233.03 229.22L232.83 229.82L232.6 230.46L232.35 231.12L232.08 231.79L231.81 232.47L231.57 233.12L231.34 233.75L231.16 234.34L231.03 234.88L230.96 235.36L230.95 235.77L231.02 236.11L231.16 236.37L231.38 236.55L231.68 236.66L232.06 236.69L232.51 236.65L233.01 236.54L233.58 236.38L234.19 236.18L234.83 235.94L235.5 235.68L236.17 235.41L236.84 235.14L237.49 234.89L238.11 234.68L238.69 234.5L239.22 234.38L239.69 234.31L240.09 234.32L240.42 234.4L240.67 234.55L240.84 234.79L240.93 235.1L240.95 235.49L240.9 235.94L240.78 236.46L240.62 237.04L240.41 237.65L240.17 238.3L239.91 238.97L239.64 239.64L239.38 240.31L239.14 240.96L238.93 241.58L238.76 242.15L238.65 242.67L238.59 243.13L238.61 243.51L238.7 243.83L238.87 244.06L239.12 244.22L239.45 244.3L239.85 244.31L240.31 244.24L240.84 244.12L241.42 243.94L242.04 243.73L242.7 243.48L243.36 243.21L244.04 242.95L244.7 242.68L245.35 242.45L245.96 242.24L246.52 242.08L247.03 241.97L247.48 241.93L247.85 241.96L248.15 242.07L248.38 242.25L248.52 242.51L248.59 242.85L248.59 243.26L248.51 243.73L248.38 244.27L248.2 244.86L247.98 245.49L247.73 246.14L247.47 246.82L247.2 247.49L246.94 248.15L246.71 248.79L246.51 249.4L246.36 249.95L246.27 250.45L246.24 250.89L246.28 251.25L246.4 251.54L246.59 251.75L246.87 251.88L247.22 251.94L247.64 251.92L248.13 251.84L248.67 251.69L249.27 251.5L249.9 251.27L250.56 251.02L251.23 250.75L251.9 250.48L252.56 250.23L253.2 250L253.79 249.81L254.34 249.66L254.83 249.58L255.26 249.56L255.61 249.61L255.88 249.74L256.08 249.95L256.2 250.24L256.24 250.6L256.22 251.03L256.12 251.53L255.98 252.09L255.78 252.69L255.55 253.33L255.29 253.99L255.02 254.66L254.76 255.34L254.51 255.99L254.29 256.62L254.1 257.21L253.97 257.75L253.9 258.23L253.89 258.64L253.96 258.98L254.1 259.24L254.32 259.43L254.62 259.53L255 259.56L255.44 259.53L255.95 259.42L256.51 259.26L257.12 259.06L257.76 258.82L258.43 258.56L259.1 258.29L259.77 258.02L260.42 257.78L261.05 257.56L261.63 257.38L262.16 257.26L262.63 257.19L263.03 257.2L263.35 257.27L263.6 257.43L263.78 257.66L263.87 257.97L263.89 258.36L263.84 258.82L263.73 259.33L263.56 259.91L263.35 260.52L263.11 261.17L262.85 261.84L262.58 262.51L262.32 263.18L262.08 263.83L261.87 264.45L261.7 265.02L261.59 265.54L261.54 266L261.55 266.39L261.64 266.7L261.81 266.94L262.06 267.1L262.38 267.18L262.78 267.19L263.25 267.12L263.78 267L264.36 266.83L264.98 266.61L265.63 266.36L266.3 266.1L266.97 265.83L267.64 265.57L268.28 265.33L268.89 265.12L269.45 264.96L269.97 264.85L270.41 264.81L270.79 264.84L271.09 264.94L271.32 265.12L271.46 265.38L271.53 265.72L271.53 266.13L271.46 266.61L271.33 267.14L271.15 267.73L270.92 268.36L270.68 269.02L270.41 269.69L270.14 270.36L269.89 271.02L269.65 271.66L269.46 272.27L269.31 272.82L269.21 273.33L269.18 273.76L269.22 274.13L269.34 274.42L269.53 274.63L269.81 274.76L270.15 274.82L270.58 274.8L271.06 274.72L271.61 274.57L272.2 274.38L272.84 274.16L273.49 273.9L274.17 273.63L274.84 273.37L275.5 273.11L276.13 272.88L276.73 272.69L277.28 272.55L277.77 272.46L278.19 272.44L278.55 272.49L278.82 272.62L279.02 272.83L279.14 273.11L279.19 273.47L279.16 273.91L279.07 274.4L278.92 274.96L278.72 275.56L278.49 276.2L278.24 276.86L277.97 277.53L277.7 278.21L277.45 278.86L277.23 279.49L277.05 280.08L276.91 280.62L276.84 281.1L276.83 281.52L276.9 281.86L277.04 282.12L277.26 282.31L277.56 282.41L277.93 282.44L278.38 282.4L278.88 282.3L279.45 282.14L280.06 281.94L280.7 281.7L281.36 281.44L282.03 281.17L282.7 280.91L283.36 280.66L283.98 280.44L284.56 280.26L285.09 280.14L285.56 280.07L285.96 280.07L286.29 280.15L286.54 280.31L286.72 280.54L286.81 280.85L286.83 281.23L286.78 281.69L286.67 282.21L286.51 282.78L286.3 283.39L286.06 284.04L285.8 284.71L285.53 285.38L285.27 286.05L285.02 286.7L284.81 287.32L284.65 287.89L284.53 288.41L284.48 288.87L284.49 289.26L284.58 289.58L284.75 289.82L285 289.98L285.32 290.06L285.72 290.06L286.18 290L286.71 289.88L287.29 289.71L287.91 289.49L288.56 289.24L289.23 288.98L289.9 288.71L290.57 288.45L291.21 288.21L291.82 288L292.39 287.84L292.9 287.73L293.35 287.69L293.73 287.72L294.03 287.82L294.26 288L294.4 288.26L294.47 288.59L294.47 289L294.4 289.48L294.27 290.02L294.09 290.6L293.87 291.23L293.62 291.89L293.36 292.56L293.09 293.23L292.83 293.89L292.6 294.53L292.4 295.14L292.25 295.7L292.15 296.2L292.12 296.64L292.16 297L292.28 297.29L292.47 297.5L292.74 297.64L293.09 297.69L293.51 297.68L294 297.6L294.54 297.46L295.14 297.27L295.77 297.04L296.43 296.78L297.1 296.52L297.77 296.25L298.43 295.99L299.07 295.76L299.66 295.57L300.21 295.43L300.7 295.34L301.13 295.32L301.48 295.37L301.76 295.5L301.96 295.7L302.08 295.99L302.13 296.35L302.1 296.78L302.01 297.28L301.86 297.83L301.67 298.43L301.44 299.07L301.18 299.73L300.91 300.4L300.65 301.08L300.4 301.73L300.18 302.36L299.99 302.95L299.86 303.49L299.78 303.98L299.77 304.39L299.84 304.73L299.98 305L300.2 305.18L300.5 305.29L300.87 305.32L301.31 305.28L301.82 305.18L302.38 305.02L302.99 304.82L303.63 304.58L304.29 304.32L304.97 304.05L305.64 303.79L306.29 303.54L306.91 303.32L307.5 303.14L308.03 303.02L308.5 302.95L308.9 302.95L309.23 303.03L309.48 303.18L309.66 303.41L309.75 303.72L309.77 304.11L309.73 304.56L309.61 305.08L309.45 305.65L309.24 306.26L309 306.91L308.74 307.58L308.47 308.25L308.21 308.92L307.97 309.57L307.76 310.19L307.59 310.76" stroke="#008000" stroke-width="3.1" fill="none" stroke-linecap="round" stroke-linejoin="round"/>
<path d="M52.14 55.59L71.16 74.28L67.9 77.59L83 82.2L78.13 67.18L74.87 70.5L55.86 51.81Z" fill="#9acd32" stroke="#000" stroke-width="0.9" stroke-linejoin="miter"/>
<path d="M171.75 175.2L199.23 202.02L195.98 205.35L211.1 209.9L206.18 194.9L202.93 198.23L175.45 171.4Z" fill="#9acd32" stroke="#000" stroke-width="0.9" stroke-linejoin="miter"/>
<path d="M332.3 334.95L335.32 338.04L331.99 341.29L347 346.2L342.44 331.08L339.11 334.33L336.1 331.25Z" fill="#9acd32" stroke="#000" stroke-width="0.9" stroke-linejoin="miter"/>
<clipPath id="clip373"><rect x="373.8" y="52.8" width="310.4" height="310"/></clipPath>
<g clip-path="url(#clip373)">
<rect x="373.71" y="52.62" width="311.18" height="310.6" fill="#f7f7f7"/>
<rect x="493.39" y="52.62" width="8" height="7.98" fill="#e7eff4"/>
<rect x="501.37" y="52.62" width="8" height="7.98" fill="#e7eff4"/>
<rect x="509.35" y="52.62" width="8" height="7.98" fill="#e7eff4"/>
<rect x="517.33" y="52.62" width="8" height="7.98" fill="#a5cfe3"/>
<rect x="525.31" y="52.62" width="8" height="7.98" fill="#fcdfce"/>
<rect x="533.29" y="52.62" width="8" height="7.98" fill="#fcdfce"/>
<rect x="541.27" y="52.62" width="8" height="7.98" fill="#faebe3"/>
<rect x="557.23" y="52.62" width="8" height="7.98" fill="#faebe3"/>
<rect x="573.18" y="52.62" width="8" height="7.98" fill="#faebe3"/>
<rect x="493.39" y="60.58" width="8" height="7.98" fill="#e7eff4"/>
<rect x="501.37" y="60.58" width="8" height="7.98" fill="#faebe3"/>
<rect x="509.35" y="60.58" width="8" height="7.98" fill="#d7e8f1"/>
<rect x="517.33" y="60.58" width="8" height="7.98" fill="#faebe3"/>
<rect x="525.31" y="60.58" width="8" height="7.98" fill="#e7eff4"/>
<rect x="533.29" y="60.58" width="8" height="7.98" fill="#faebe3"/>
<rect x="668.93" y="60.58" width="8" height="7.98" fill="#e7eff4"/>
<rect x="493.39" y="68.55" width="8" height="7.98" fill="#e7eff4"/>
<rect x="501.37" y="68.55" width="8" height="7.98" fill="#c0dceb"/>
<rect x="509.35" y="68.55" width="8" height="7.98" fill="#fcdfce"/>
<rect x="517.33" y="68.55" width="8" height="7.98" fill="#fcdfce"/>
<rect x="525.31" y="68.55" width="8" height="7.98" fill="#fcdfce"/>
<rect x="533.29" y="68.55" width="8" height="7.98" fill="#fcdfce"/>
<rect x="652.97" y="68.55" width="8" height="7.98" fill="#faebe3"/>
<rect x="660.95" y="68.55" width="8" height="7.98" fill="#faebe3"/>
<rect x="668.93" y="68.55" width="8" height="7.98" fill="#d7e8f1"/>
<rect x="676.91" y="68.55" width="8" height="7.98" fill="#faebe3"/>
<rect x="469.46" y="76.51" width="8" height="7.98" fill="#faebe3"/>
<rect x="493.39" y="76.51" width="8" height="7.98" fill="#faebe3"/>
<rect x="501.37" y="76.51" width="8" height="7.98" fill="#b2182b"/>
<rect x="509.35" y="76.51" width="8" height="7.98" fill="#6aacd0"/>
<rect x="517.33" y="76.51" width="8" height="7.98" fill="#fcdfce"/>
<rect x="652.97" y="76.51" width="8" height="7.98" fill="#faebe3"/>
<rect x="660.95" y="76.51" width="8" height="7.98" fill="#faebe3"/>
<rect x="676.91" y="76.51" width="8" height="7.98" fill="#faebe3"/>
<rect x="437.54" y="84.48" width="8" height="7.98" fill="#faebe3"/>
<rect x="469.46" y="84.48" width="8" height="7.98" fill="#faebe3"/>
<rect x="477.44" y="84.48" width="8" height="7.98" fill="#e7eff4"/>
<rect x="485.42" y="84.48" width="8" height="7.98" fill="#fcdfce"/>
<rect x="493.39" y="84.48" width="8" height="7.98" fill="#fcdfce"/>
<rect x="501.37" y="84.48" width="8" height="7.98" fill="#fbccb4"/>
<rect x="509.35" y="84.48" width="8" height="7.98" fill="#fcdfce"/>
<rect x="517.33" y="84.48" width="8" height="7.98" fill="#d7e8f1"/>
<rect x="645" y="84.48" width="8" height="7.98" fill="#faebe3"/>
<rect x="652.97" y="84.48" width="8" height="7.98" fill="#faebe3"/>
<rect x="660.95" y="84.48" width="8" height="7.98" fill="#faebe3"/>
<rect x="477.44" y="92.44" width="8" height="7.98" fill="#d7e8f1"/>
<rect x="485.42" y="92.44" width="8" height="7.98" fill="#fbccb4"/>
<rect x="493.39" y="92.44" width="8" height="7.98" fill="#fcdfce"/>
<rect x="645" y="92.44" width="8" height="7.98" fill="#faebe3"/>
<rect x="652.97" y="92.44" width="8" height="7.98" fill="#faebe3"/>
<rect x="660.95" y="92.44" width="8" height="7.98" fill="#faebe3"/>
<rect x="469.46" y="100.4" width="8" height="7.98" fill="#faebe3"/>
<rect x="477.44" y="100.4" width="8" height="7.98" fill="#e7eff4"/>
<rect x="485.42" y="100.4" width="8" height="7.98" fill="#fcdfce"/>
<rect x="501.37" y="100.4" width="8" height="7.98" fill="#faebe3"/>
<rect x="637.02" y="100.4" width="8" height="7.98" fill="#faebe3"/>
<rect x="461.48" y="108.37" width="8" height="7.98" fill="#e7eff4"/>
<rect x="477.44" y="108.37" width="8" height="7.98" fill="#e7eff4"/>
<rect x="485.42" y="108.37" width="8" height="7.98" fill="#faebe3"/>
<rect x="493.39" y="108.37" width="8" height="7.98" fill="#faebe3"/>
<rect x="405.63" y="116.33" width="8" height="7.98" fill="#faebe3"/>
<rect x="469.46" y="116.33" width="8" height="7.98" fill="#faebe3"/>
<rect x="477.44" y="116.33" width="8" height="7.98" fill="#faebe3"/>
<rect x="629.04" y="116.33" width="8" height="7.98" fill="#faebe3"/>
<rect x="645" y="116.33" width="8" height="7.98" fill="#faebe3"/>
<rect x="493.39" y="140.22" width="8" height="7.98" fill="#faebe3"/>
<rect x="501.37" y="140.22" width="8" height="7.98" fill="#e7eff4"/>
<rect x="509.35" y="140.22" width="8" height="7.98" fill="#e7eff4"/>
<rect x="517.33" y="140.22" width="8" height="7.98" fill="#faebe3"/>
<rect x="397.65" y="148.19" width="8" height="7.98" fill="#faebe3"/>
<rect x="405.63" y="148.19" width="8" height="7.98" fill="#e7eff4"/>
<rect x="421.58" y="148.19" width="8" height="7.98" fill="#faebe3"/>
<rect x="437.54" y="148.19" width="8" height="7.98" fill="#faebe3"/>
<rect x="501.37" y="148.19" width="8" height="7.98" fill="#fcdfce"/>
<rect x="509.35" y="148.19" width="8" height="7.98" fill="#fcdfce"/>
<rect x="517.33" y="148.19" width="8" height="7.98" fill="#e7eff4"/>
<rect x="645" y="148.19" width="8" height="7.98" fill="#faebe3"/>
<rect x="405.63" y="156.15" width="8" height="7.98" fill="#e7eff4"/>
<rect x="421.58" y="156.15" width="8" height="7.98" fill="#e7eff4"/>
<rect x="429.56" y="156.15" width="8" height="7.98" fill="#e7eff4"/>
<rect x="509.35" y="156.15" width="8" height="7.98" fill="#faebe3"/>
<rect x="397.65" y="164.12" width="8" height="7.98" fill="#faebe3"/>
<rect x="405.63" y="164.12" width="8" height="7.98" fill="#e7eff4"/>
<rect x="413.6" y="164.12" width="8" height="7.98" fill="#fcdfce"/>
<rect x="421.58" y="164.12" width="8" height="7.98" fill="#faebe3"/>
<rect x="645" y="164.12" width="8" height="7.98" fill="#faebe3"/>
<rect x="405.63" y="172.08" width="8" height="7.98" fill="#e7eff4"/>
<rect x="421.58" y="172.08" width="8" height="7.98" fill="#faebe3"/>
<rect x="397.65" y="180.04" width="8" height="7.98" fill="#e7eff4"/>
<rect x="405.63" y="180.04" width="8" height="7.98" fill="#faebe3"/>
<rect x="413.6" y="180.04" width="8" height="7.98" fill="#faebe3"/>
<rect x="469.46" y="180.04" width="8" height="7.98" fill="#e7eff4"/>
<rect x="676.91" y="180.04" width="8" height="7.98" fill="#faebe3"/>
<rect x="381.69" y="188.01" width="8" height="7.98" fill="#e7eff4"/>
<rect x="389.67" y="188.01" width="8" height="7.98" fill="#faebe3"/>
<rect x="397.65" y="188.01" width="8" height="7.98" fill="#fbccb4"/>
<rect x="405.63" y="188.01" width="8" height="7.98" fill="#faebe3"/>
<rect x="469.46" y="188.01" width="8" height="7.98" fill="#faebe3"/>
<rect x="676.91" y="188.01" width="8" height="7.98" fill="#faebe3"/>
<rect x="381.69" y="195.97" width="8" height="7.98" fill="#faebe3"/>
<rect x="389.67" y="195.97" width="8" height="7.98" fill="#e7eff4"/>
<rect x="397.65" y="195.97" width="8" height="7.98" fill="#e7eff4"/>
<rect x="676.91" y="195.97" width="8" height="7.98" fill="#e7eff4"/>
<rect x="373.71" y="203.94" width="8" height="7.98" fill="#faebe3"/>
<rect x="381.69" y="203.94" width="8" height="7.98" fill="#e7eff4"/>
<rect x="389.67" y="203.94" width="8" height="7.98" fill="#e7eff4"/>
<rect x="397.65" y="203.94" width="8" height="7.98" fill="#faebe3"/>
<rect x="373.71" y="211.9" width="8" height="7.98" fill="#fcdfce"/>
<rect x="389.67" y="211.9" width="8" height="7.98" fill="#faebe3"/>
<rect x="565.21" y="211.9" width="8" height="7.98" fill="#faebe3"/>
<rect x="373.71" y="219.86" width="8" height="7.98" fill="#faebe3"/>
<rect x="373.71" y="227.83" width="8" height="7.98" fill="#faebe3"/>
<rect x="581.16" y="227.83" width="8" height="7.98" fill="#faebe3"/>
<rect x="589.14" y="227.83" width="8" height="7.98" fill="#e7eff4"/>
<rect x="589.14" y="235.79" width="8" height="7.98" fill="#faebe3"/>
<rect x="597.12" y="235.79" width="8" height="7.98" fill="#e7eff4"/>
<rect x="533.29" y="243.76" width="8" height="7.98" fill="#faebe3"/>
<rect x="597.12" y="243.76" width="8" height="7.98" fill="#e7eff4"/>
<rect x="605.1" y="243.76" width="8" height="7.98" fill="#faebe3"/>
<rect x="389.67" y="251.72" width="8" height="7.98" fill="#faebe3"/>
<rect x="533.29" y="251.72" width="8" height="7.98" fill="#faebe3"/>
<rect x="541.27" y="251.72" width="8" height="7.98" fill="#faebe3"/>
<rect x="605.1" y="251.72" width="8" height="7.98" fill="#faebe3"/>
<rect x="613.08" y="251.72" width="8" height="7.98" fill="#faebe3"/>
<rect x="541.27" y="259.68" width="8" height="7.98" fill="#e7eff4"/>
<rect x="549.25" y="259.68" width="8" height="7.98" fill="#fcdfce"/>
<rect x="613.08" y="259.68" width="8" height="7.98" fill="#faebe3"/>
<rect x="621.06" y="259.68" width="8" height="7.98" fill="#c0dceb"/>
<rect x="629.04" y="259.68" width="8" height="7.98" fill="#faebe3"/>
<rect x="549.25" y="267.65" width="8" height="7.98" fill="#d7e8f1"/>
<rect x="557.23" y="267.65" width="8" height="7.98" fill="#e7eff4"/>
<rect x="621.06" y="267.65" width="8" height="7.98" fill="#d7e8f1"/>
<rect x="629.04" y="267.65" width="8" height="7.98" fill="#fcdfce"/>
<rect x="389.67" y="275.61" width="8" height="7.98" fill="#faebe3"/>
<rect x="533.29" y="275.61" width="8" height="7.98" fill="#faebe3"/>
<rect x="557.23" y="275.61" width="8" height="7.98" fill="#e7eff4"/>
<rect x="565.21" y="275.61" width="8" height="7.98" fill="#fbccb4"/>
<rect x="629.04" y="275.61" width="8" height="7.98" fill="#e7eff4"/>
<rect x="405.63" y="283.58" width="8" height="7.98" fill="#faebe3"/>
<rect x="437.54" y="283.58" width="8" height="7.98" fill="#faebe3"/>
<rect x="557.23" y="283.58" width="8" height="7.98" fill="#faebe3"/>
<rect x="565.21" y="283.58" width="8" height="7.98" fill="#e7eff4"/>
<rect x="573.18" y="283.58" width="8" height="7.98" fill="#c0dceb"/>
<rect x="637.02" y="283.58" width="8" height="7.98" fill="#faebe3"/>
<rect x="573.18" y="291.54" width="8" height="7.98" fill="#e58268"/>
<rect x="581.16" y="291.54" width="8" height="7.98" fill="#f7b597"/>
<rect x="645" y="291.54" width="8" height="7.98" fill="#e7eff4"/>
<rect x="652.97" y="291.54" width="8" height="7.98" fill="#e7eff4"/>
<rect x="660.95" y="291.54" width="8" height="7.98" fill="#faebe3"/>
<rect x="676.91" y="291.54" width="8" height="7.98" fill="#faebe3"/>
<rect x="581.16" y="299.5" width="8" height="7.98" fill="#e7eff4"/>
<rect x="589.14" y="299.5" width="8" height="7.98" fill="#fbccb4"/>
<rect x="668.93" y="299.5" width="8" height="7.98" fill="#e7eff4"/>
<rect x="405.63" y="307.47" width="8" height="7.98" fill="#faebe3"/>
<rect x="413.6" y="307.47" width="8" height="7.98" fill="#faebe3"/>
<rect x="421.58" y="307.47" width="8" height="7.98" fill="#faebe3"/>
<rect x="589.14" y="307.47" width="8" height="7.98" fill="#e7eff4"/>
<rect x="597.12" y="307.47" width="8" height="7.98" fill="#e7eff4"/>
<rect x="397.65" y="315.43" width="8" height="7.98" fill="#e7eff4"/>
<rect x="405.63" y="315.43" width="8" height="7.98" fill="#c0dceb"/>
<rect x="413.6" y="315.43" width="8" height="7.98" fill="#c0dceb"/>
<rect x="421.58" y="315.43" width="8" height="7.98" fill="#d7e8f1"/>
<rect x="429.56" y="315.43" width="8" height="7.98" fill="#faebe3"/>
<rect x="597.12" y="315.43" width="8" height="7.98" fill="#e7eff4"/>
<rect x="605.1" y="315.43" width="8" height="7.98" fill="#faebe3"/>
<rect x="668.93" y="315.43" width="8" height="7.98" fill="#faebe3"/>
<rect x="389.67" y="323.4" width="8" height="7.98" fill="#e7eff4"/>
<rect x="397.65" y="323.4" width="8" height="7.98" fill="#c0dceb"/>
<rect x="405.63" y="323.4" width="8" height="7.98" fill="#e58268"/>
<rect x="413.6" y="323.4" width="8" height="7.98" fill="#e58268"/>
<rect x="421.58" y="323.4" width="8" height="7.98" fill="#faebe3"/>
<rect x="429.56" y="323.4" width="8" height="7.98" fill="#e7eff4"/>
<rect x="437.54" y="323.4" width="8" height="7.98" fill="#faebe3"/>
<rect x="597.12" y="323.4" width="8" height="7.98" fill="#e7eff4"/>
<rect x="613.08" y="323.4" width="8" height="7.98" fill="#faebe3"/>
<rect x="389.67" y="331.36" width="8" height="7.98" fill="#fcdfce"/>
<rect x="397.65" y="331.36" width="8" height="7.98" fill="#fcdfce"/>
<rect x="413.6" y="331.36" width="8" height="7.98" fill="#fcdfce"/>
<rect x="421.58" y="331.36" width="8" height="7.98" fill="#e7eff4"/>
<rect x="573.18" y="331.36" width="8" height="7.98" fill="#e7eff4"/>
<rect x="597.12" y="331.36" width="8" height="7.98" fill="#faebe3"/>
<rect x="605.1" y="331.36" width="8" height="7.98" fill="#f7b597"/>
<rect x="613.08" y="331.36" width="8" height="7.98" fill="#f7b597"/>
<rect x="373.71" y="339.32" width="8" height="7.98" fill="#d7e8f1"/>
<rect x="381.69" y="339.32" width="8" height="7.98" fill="#c0dceb"/>
<rect x="389.67" y="339.32" width="8" height="7.98" fill="#67001f"/>
<rect x="397.65" y="339.32" width="8" height="7.98" fill="#fbccb4"/>
<rect x="405.63" y="339.32" width="8" height="7.98" fill="#fbccb4"/>
<rect x="413.6" y="339.32" width="8" height="7.98" fill="#fcdfce"/>
<rect x="605.1" y="339.32" width="8" height="7.98" fill="#faebe3"/>
<rect x="613.08" y="339.32" width="8" height="7.98" fill="#fbccb4"/>
<rect x="373.71" y="347.29" width="8" height="7.98" fill="#faebe3"/>
<rect x="381.69" y="347.29" width="8" height="7.98" fill="#c0dceb"/>
<rect x="389.67" y="347.29" width="8" height="7.98" fill="#327cb8"/>
<rect x="397.65" y="347.29" width="8" height="7.98" fill="#faebe3"/>
<rect x="413.6" y="347.29" width="8" height="7.98" fill="#e7eff4"/>
<rect x="373.71" y="355.25" width="8" height="7.98" fill="#d7e8f1"/>
<rect x="381.69" y="355.25" width="8" height="7.98" fill="#fcdfce"/>
<rect x="389.67" y="355.25" width="8" height="7.98" fill="#faebe3"/>
<rect x="397.65" y="355.25" width="8" height="7.98" fill="#fcdfce"/>
<rect x="413.6" y="355.25" width="8" height="7.98" fill="#e7eff4"/>
<rect x="509.35" y="355.25" width="8" height="7.98" fill="#faebe3"/>
<path d="M381.69 52.62V363.22M373.71 60.58H684.89M389.67 52.62V363.22M373.71 68.55H684.89M397.65 52.62V363.22M373.71 76.51H684.89M405.63 52.62V363.22M373.71 84.48H684.89M413.6 52.62V363.22M373.71 92.44H684.89M421.58 52.62V363.22M373.71 100.4H684.89M429.56 52.62V363.22M373.71 108.37H684.89M437.54 52.62V363.22M373.71 116.33H684.89M445.52 52.62V363.22M373.71 124.3H684.89M453.5 52.62V363.22M373.71 132.26H684.89M461.48 52.62V363.22M373.71 140.22H684.89M469.46 52.62V363.22M373.71 148.19H684.89M477.44 52.62V363.22M373.71 156.15H684.89M485.42 52.62V363.22M373.71 164.12H684.89M493.39 52.62V363.22M373.71 172.08H684.89M501.37 52.62V363.22M373.71 180.04H684.89M509.35 52.62V363.22M373.71 188.01H684.89M517.33 52.62V363.22M373.71 195.97H684.89M525.31 52.62V363.22M373.71 203.94H684.89M533.29 52.62V363.22M373.71 211.9H684.89M541.27 52.62V363.22M373.71 219.86H684.89M549.25 52.62V363.22M373.71 227.83H684.89M557.23 52.62V363.22M373.71 235.79H684.89M565.21 52.62V363.22M373.71 243.76H684.89M573.18 52.62V363.22M373.71 251.72H684.89M581.16 52.62V363.22M373.71 259.68H684.89M589.14 52.62V363.22M373.71 267.65H684.89M597.12 52.62V363.22M373.71 275.61H684.89M605.1 52.62V363.22M373.71 283.58H684.89M613.08 52.62V363.22M373.71 291.54H684.89M621.06 52.62V363.22M373.71 299.5H684.89M629.04 52.62V363.22M373.71 307.47H684.89M637.02 52.62V363.22M373.71 315.43H684.89M645 52.62V363.22M373.71 323.4H684.89M652.97 52.62V363.22M373.71 331.36H684.89M660.95 52.62V363.22M373.71 339.32H684.89M668.93 52.62V363.22M373.71 347.29H684.89M676.91 52.62V363.22M373.71 355.25H684.89" stroke="#262626" stroke-width="0.85" fill="none"/>
</g>
<clipPath id="clipo373"><rect x="374.55" y="53.55" width="308.9" height="308.5"/></clipPath>
<g clip-path="url(#clipo373)">
<path d="M469.46 100.4L477.44 100.4L477.44 92.44L485.42 92.44L485.42 84.48L493.39 84.48L493.39 76.51L501.37 76.51L501.37 68.55L509.35 68.55L509.35 60.58L517.33 60.58L517.33 52.62L557.23 52.62L557.23 60.58L549.25 60.58L549.25 68.55L541.27 68.55L541.27 76.51L533.29 76.51L533.29 84.48L525.31 84.48L525.31 92.44L517.33 92.44L517.33 100.4L509.35 100.4L509.35 108.37L501.37 108.37L501.37 116.33L493.39 116.33L493.39 124.3L485.42 124.3L485.42 132.26L477.44 132.26L477.44 124.3L469.46 124.3L469.46 116.33L461.48 116.33L461.48 108.37L469.46 108.37Z" stroke="#000" stroke-width="2.6" fill="none" stroke-linejoin="miter"/>
<path d="M405.63 164.12L413.6 164.12L413.6 156.15L421.58 156.15L421.58 148.19L429.56 148.19L429.56 140.22L437.54 140.22L437.54 148.19L445.52 148.19L445.52 156.15L453.5 156.15L453.5 164.12L445.52 164.12L445.52 172.08L437.54 172.08L437.54 180.04L429.56 180.04L429.56 188.01L421.58 188.01L421.58 195.97L413.6 195.97L413.6 203.94L405.63 203.94L405.63 211.9L397.65 211.9L397.65 219.86L389.67 219.86L389.67 227.83L381.69 227.83L381.69 235.79L373.71 235.79L373.71 195.97L381.69 195.97L381.69 188.01L389.67 188.01L389.67 180.04L397.65 180.04L397.65 172.08L405.63 172.08Z" stroke="#000" stroke-width="2.6" fill="none" stroke-linejoin="miter"/>
<path d="M637.02 108.37L637.02 84.48L645 84.48L645 76.51L652.97 76.51L652.97 68.55L660.95 68.55L660.95 60.58L668.93 60.58L668.93 52.62L684.89 52.62L684.89 84.48L676.91 84.48L676.91 92.44L668.93 92.44L668.93 100.4L660.95 100.4L660.95 108.37Z" stroke="#000" stroke-width="2.6" fill="none" stroke-linejoin="miter"/>
<path d="M373.71 347.29L381.69 347.29L381.69 339.32L389.67 339.32L389.67 331.36L397.65 331.36L397.65 323.4L405.63 323.4L405.63 315.43L429.56 315.43L429.56 339.32L421.58 339.32L421.58 347.29L413.6 347.29L413.6 355.25L405.63 355.25L405.63 363.22L373.71 363.22Z" stroke="#000" stroke-width="2.6" fill="none" stroke-linejoin="miter"/>
<path d="M613.08 259.68L605.1 259.68L605.1 251.72L597.12 251.72L597.12 243.76L589.14 243.76L589.14 235.79L581.16 235.79L581.16 227.83L573.18 227.83L573.18 219.86L589.14 219.86L589.14 227.83L597.12 227.83L597.12 235.79L605.1 235.79L605.1 243.76L613.08 243.76L613.08 251.72L621.06 251.72L621.06 259.68L629.04 259.68L629.04 267.65L637.02 267.65L637.02 275.61L645 275.61L645 283.58L652.97 283.58L652.97 291.54L660.95 291.54L660.95 299.5L645 299.5L645 291.54L637.02 291.54L637.02 283.58L629.04 283.58L629.04 275.61L621.06 275.61L621.06 267.65L613.08 267.65Z" stroke="#000" stroke-width="2.6" fill="none" stroke-linejoin="miter"/>
<path d="M621.06 339.32L613.08 339.32L613.08 331.36L605.1 331.36L605.1 323.4L597.12 323.4L597.12 315.43L589.14 315.43L589.14 307.47L581.16 307.47L581.16 299.5L573.18 299.5L573.18 291.54L565.21 291.54L565.21 283.58L557.23 283.58L557.23 275.61L549.25 275.61L549.25 267.65L541.27 267.65L541.27 251.72L549.25 251.72L549.25 259.68L557.23 259.68L557.23 267.65L565.21 267.65L565.21 275.61L573.18 275.61L573.18 283.58L581.16 283.58L581.16 291.54L589.14 291.54L589.14 299.5L597.12 299.5L597.12 307.47L605.1 307.47L605.1 315.43L613.08 315.43L613.08 323.4L621.06 323.4Z" stroke="#000" stroke-width="2.6" fill="none" stroke-linejoin="miter"/>
</g>
<rect x="373.8" y="52.8" width="310.4" height="310" fill="none" stroke="#000" stroke-width="1.35"/>
<path d="M371.2 56.6H373.8M377.7 362.8V365.4M371.2 64.57H373.8M385.68 362.8V365.4M371.2 72.53H373.8M393.66 362.8V365.4M371.2 80.49H373.8M401.64 362.8V365.4M371.2 88.46H373.8M409.62 362.8V365.4M371.2 96.42H373.8M417.59 362.8V365.4M371.2 104.39H373.8M425.57 362.8V365.4M371.2 112.35H373.8M433.55 362.8V365.4M371.2 120.31H373.8M441.53 362.8V365.4M371.2 128.28H373.8M449.51 362.8V365.4M371.2 136.24H373.8M457.49 362.8V365.4M371.2 144.21H373.8M465.47 362.8V365.4M371.2 152.17H373.8M473.45 362.8V365.4M371.2 160.13H373.8M481.43 362.8V365.4M371.2 168.1H373.8M489.41 362.8V365.4M371.2 176.06H373.8M497.38 362.8V365.4M371.2 184.03H373.8M505.36 362.8V365.4M371.2 191.99H373.8M513.34 362.8V365.4M371.2 199.95H373.8M521.32 362.8V365.4M371.2 207.92H373.8M529.3 362.8V365.4M371.2 215.88H373.8M537.28 362.8V365.4M371.2 223.85H373.8M545.26 362.8V365.4M371.2 231.81H373.8M553.24 362.8V365.4M371.2 239.77H373.8M561.22 362.8V365.4M371.2 247.74H373.8M569.2 362.8V365.4M371.2 255.7H373.8M577.17 362.8V365.4M371.2 263.67H373.8M585.15 362.8V365.4M371.2 271.63H373.8M593.13 362.8V365.4M371.2 279.59H373.8M601.11 362.8V365.4M371.2 287.56H373.8M609.09 362.8V365.4M371.2 295.52H373.8M617.07 362.8V365.4M371.2 303.49H373.8M625.05 362.8V365.4M371.2 311.45H373.8M633.03 362.8V365.4M371.2 319.41H373.8M641.01 362.8V365.4M371.2 327.38H373.8M648.99 362.8V365.4M371.2 335.34H373.8M656.96 362.8V365.4M371.2 343.31H373.8M664.94 362.8V365.4M371.2 351.27H373.8M672.92 362.8V365.4M371.2 359.23H373.8M680.9 362.8V365.4" stroke="#000" stroke-width="0.8" fill="none"/>
<path d="M373.8 52.8L549.35 228.12M630.55 309.22L684.2 362.8" stroke="#000" stroke-width="1.6" fill="none"/>
<path d="M549.35 228.12L550.02 227.86L550.68 227.6L551.32 227.37L551.91 227.18L552.46 227.04L552.95 226.96L553.37 226.94L553.72 226.99L554 227.12L554.19 227.33L554.31 227.62L554.35 227.99L554.32 228.42L554.23 228.92L554.08 229.48L553.88 230.08L553.65 230.72L553.39 231.39L553.12 232.06L552.86 232.73L552.61 233.39L552.39 234.02L552.2 234.6L552.07 235.14L552 235.62L552 236.03L552.06 236.37L552.21 236.63L552.43 236.81L552.74 236.91L553.11 236.94L553.56 236.9L554.07 236.79L554.64 236.63L555.25 236.43L555.89 236.19L556.56 235.93L557.23 235.66L557.9 235.4L558.55 235.15L559.17 234.93L559.75 234.76L560.28 234.64L560.75 234.57L561.15 234.58L561.47 234.66L561.72 234.82L561.89 235.06L561.98 235.38L561.99 235.77L561.94 236.23L561.82 236.75L561.65 237.32L561.44 237.94L561.2 238.59L560.94 239.26L560.67 239.93L560.41 240.6L560.17 241.25L559.96 241.86L559.79 242.43L559.68 242.95L559.63 243.41L559.65 243.79L559.75 244.1L559.92 244.33L560.17 244.49L560.5 244.56L560.91 244.57L561.38 244.5L561.91 244.38L562.49 244.2L563.12 243.98L563.77 243.73L564.44 243.46L565.11 243.2L565.78 242.94L566.42 242.7L567.03 242.5L567.59 242.34L568.1 242.24L568.54 242.2L568.91 242.23L569.21 242.34L569.43 242.53L569.57 242.8L569.63 243.14L569.62 243.55L569.55 244.04L569.41 244.58L569.22 245.17L569 245.8L568.75 246.46L568.48 247.13L568.22 247.8L567.96 248.47L567.73 249.1L567.53 249.7L567.39 250.26L567.3 250.75L567.27 251.18L567.32 251.54L567.44 251.83L567.64 252.03L567.92 252.16L568.28 252.21L568.71 252.18L569.2 252.09L569.75 251.95L570.35 251.76L570.99 251.52L571.65 251.27L572.32 251L572.99 250.73L573.65 250.48L574.28 250.25L574.88 250.07L575.42 249.93L575.91 249.85L576.32 249.84L576.67 249.9L576.94 250.03L577.13 250.25L577.24 250.54L577.28 250.91L577.24 251.35L577.15 251.85L576.99 252.42L576.79 253.02L576.56 253.66L576.3 254.33L576.03 255L575.76 255.67L575.52 256.33L575.3 256.95L575.12 257.54L574.99 258.07L574.92 258.55L574.92 258.95L575 259.28L575.15 259.54L575.38 259.72L575.68 259.81L576.07 259.84L576.52 259.79L577.03 259.68L577.6 259.52L578.22 259.31L578.86 259.07L579.53 258.81L580.2 258.54L580.87 258.27L581.52 258.03L582.14 257.81L582.72 257.64L583.24 257.52L583.7 257.47L584.1 257.48L584.42 257.57L584.66 257.73L584.82 257.97L584.9 258.3L584.92 258.69L584.86 259.15L584.74 259.68L584.57 260.26L584.35 260.88L584.11 261.53L583.84 262.2L583.58 262.87L583.32 263.54L583.08 264.19L582.87 264.8L582.71 265.37L582.6 265.88L582.56 266.33L582.58 266.71L582.68 267.02L582.86 267.24L583.12 267.39L583.45 267.46L583.86 267.46L584.34 267.39L584.87 267.26L585.46 267.08L586.09 266.86L586.74 266.61L587.41 266.34L588.08 266.07L588.75 265.81L589.39 265.58L589.99 265.38L590.55 265.23L591.06 265.13L591.49 265.1L591.86 265.13L592.15 265.25L592.37 265.44L592.5 265.71L592.56 266.06L592.54 266.48L592.46 266.97L592.32 267.51L592.14 268.11L591.91 268.74L591.66 269.4L591.39 270.07L591.12 270.74L590.87 271.41L590.64 272.04L590.45 272.64L590.3 273.19L590.22 273.68L590.2 274.11L590.25 274.46L590.38 274.74L590.59 274.94L590.87 275.06L591.23 275.1L591.66 275.07L592.16 274.98L592.72 274.83L593.32 274.64L593.96 274.4L594.62 274.15L595.29 273.88L595.96 273.61L596.62 273.36L597.25 273.14L597.84 272.95L598.38 272.82L598.86 272.74L599.27 272.73L599.62 272.8L599.88 272.94L600.06 273.16L600.17 273.46L600.2 273.83L600.16 274.28L600.06 274.79L599.9 275.35L599.7 275.96L599.46 276.6L599.2 277.27L598.94 277.94L598.67 278.61L598.43 279.27L598.21 279.89L598.03 280.47L597.91 281L597.85 281.47L597.85 281.87L597.93 282.2L598.09 282.45L598.32 282.62L598.63 282.71L599.02 282.73L599.48 282.68L600 282.57L600.57 282.4L601.18 282.19L601.83 281.95L602.5 281.68L603.17 281.41L603.84 281.15L604.49 280.91L605.11 280.7L605.68 280.53L606.2 280.41L606.66 280.36L607.05 280.38L607.36 280.47L607.6 280.64L607.75 280.89L607.83 281.22L607.84 281.62L607.78 282.08L607.65 282.61L607.48 283.2L607.26 283.82L607.01 284.47L606.75 285.14L606.48 285.82L606.22 286.48L605.99 287.13L605.78 287.74L605.62 288.3L605.52 288.81L605.48 289.25L605.51 289.63L605.62 289.93L605.8 290.15L606.06 290.29L606.4 290.36L606.82 290.35L607.3 290.28L607.84 290.14L608.43 289.96L609.05 289.74L609.71 289.49L610.38 289.22L611.06 288.95L611.72 288.69L612.36 288.46L612.96 288.26L613.51 288.11L614.01 288.02L614.45 287.99L614.81 288.04L615.09 288.15L615.3 288.35L615.43 288.63L615.48 288.98L615.47 289.41L615.38 289.9L615.24 290.45L615.05 291.04L614.82 291.68L614.56 292.34L614.3 293.01L614.03 293.69L613.78 294.35L613.55 294.98L613.36 295.57L613.22 296.12L613.14 296.61L613.12 297.03L613.18 297.38L613.32 297.65L613.53 297.84L613.82 297.96L614.18 298L614.62 297.97L615.12 297.87L615.68 297.72L616.29 297.52L616.93 297.28L617.59 297.02L618.26 296.75L618.94 296.49L619.59 296.24L620.22 296.02L620.8 295.84L621.34 295.7L621.82 295.63L622.23 295.63L622.56 295.7L622.82 295.85L623 296.07L623.1 296.38L623.13 296.76L623.08 297.21L622.98 297.72L622.82 298.29L622.61 298.9L622.37 299.54L622.11 300.21L621.84 300.89L621.58 301.56L621.33 302.21L621.12 302.83L620.95 303.41L620.83 303.93L620.77 304.4L620.78 304.79L620.86 305.11L621.02 305.36L621.26 305.52L621.58 305.61L621.97 305.63L622.44 305.57L622.96 305.45L623.53 305.28L624.15 305.07L624.8 304.82L625.47 304.56L626.15 304.29L626.81 304.03L627.46 303.79L628.07 303.58L628.64 303.41L629.16 303.3L629.61 303.26L630 303.28L630.3 303.38L630.53 303.55L630.69 303.81L630.76 304.14L630.76 304.54L630.69 305.01L630.57 305.55L630.39 306.13L630.17 306.76L629.92 307.41L629.66 308.08L629.39 308.76L629.13 309.42L628.9 310.06L628.69 310.67L628.54 311.23" stroke="#008000" stroke-width="3.1" fill="none" stroke-linecap="round" stroke-linejoin="round"/>
<path d="M373.19 55.59L392.21 74.28L388.95 77.59L404.05 82.2L399.18 67.18L395.92 70.5L376.91 51.81Z" fill="#9acd32" stroke="#000" stroke-width="0.9" stroke-linejoin="miter"/>
<path d="M492.8 175.2L520.28 202.02L517.03 205.35L532.15 209.9L527.23 194.9L523.98 198.23L496.5 171.4Z" fill="#9acd32" stroke="#000" stroke-width="0.9" stroke-linejoin="miter"/>
<path d="M653.35 334.95L656.37 338.04L653.04 341.29L668.05 346.2L663.49 331.08L660.16 334.33L657.15 331.25Z" fill="#9acd32" stroke="#000" stroke-width="0.9" stroke-linejoin="miter"/>
<text x="46.8" y="59.75" font-size="11.5" text-anchor="end" textLength="43.35" lengthAdjust="spacingAndGlyphs">MET1-CA</text>
<text x="46.8" y="75.71" font-size="11.5" text-anchor="end" textLength="41.51" lengthAdjust="spacingAndGlyphs">VAL3-CA</text>
<text x="46.8" y="91.67" font-size="11.5" text-anchor="end" textLength="41.13" lengthAdjust="spacingAndGlyphs">PHE5-CA</text>
<text x="46.8" y="107.63" font-size="11.5" text-anchor="end" textLength="40.13" lengthAdjust="spacingAndGlyphs">LYS7-CA</text>
<text x="46.8" y="123.59" font-size="11.5" text-anchor="end" textLength="41.51" lengthAdjust="spacingAndGlyphs">VAL9-CA</text>
<text x="46.8" y="139.55" font-size="11.5" text-anchor="end" textLength="46.42" lengthAdjust="spacingAndGlyphs">GLY11-CA</text>
<text x="46.8" y="155.51" font-size="11.5" text-anchor="end" textLength="46.8" lengthAdjust="spacingAndGlyphs">GLY13-CA</text>
<text x="46.8" y="171.47" font-size="11.5" text-anchor="end" textLength="45.13" lengthAdjust="spacingAndGlyphs">LYS15-CA</text>
<text x="46.8" y="187.43" font-size="11.5" text-anchor="end" textLength="47.8" lengthAdjust="spacingAndGlyphs">GLU17-CA</text>
<text x="46.8" y="203.39" font-size="11.5" text-anchor="end" textLength="45.13" lengthAdjust="spacingAndGlyphs">LYS19-CA</text>
<text x="46.8" y="219.35" font-size="11.5" text-anchor="end" textLength="46.51" lengthAdjust="spacingAndGlyphs">VAL21-CA</text>
<text x="46.8" y="235.31" font-size="11.5" text-anchor="end" textLength="45.59" lengthAdjust="spacingAndGlyphs">ASP23-CA</text>
<text x="46.8" y="251.27" font-size="11.5" text-anchor="end" textLength="47.25" lengthAdjust="spacingAndGlyphs">TYR25-CA</text>
<text x="46.8" y="267.23" font-size="11.5" text-anchor="end" textLength="47.25" lengthAdjust="spacingAndGlyphs">ASN27-CA</text>
<text x="46.8" y="283.19" font-size="11.5" text-anchor="end" textLength="46.14" lengthAdjust="spacingAndGlyphs">PHE29-CA</text>
<text x="46.8" y="299.15" font-size="11.5" text-anchor="end" textLength="46.14" lengthAdjust="spacingAndGlyphs">PHE31-CA</text>
<text x="46.8" y="315.11" font-size="11.5" text-anchor="end" textLength="47.8" lengthAdjust="spacingAndGlyphs">GLN33-CA</text>
<text x="46.8" y="331.07" font-size="11.5" text-anchor="end" textLength="46.68" lengthAdjust="spacingAndGlyphs">LEU35-CA</text>
<text x="46.8" y="347.03" font-size="11.5" text-anchor="end" textLength="42.79" lengthAdjust="spacingAndGlyphs">ILE37-CA</text>
<text x="46.8" y="362.99" font-size="11.5" text-anchor="end" textLength="47.8" lengthAdjust="spacingAndGlyphs">ALA39-CA</text>
<text class="xl" x="0" y="0" font-size="12.2" text-anchor="end" textLength="40.13" lengthAdjust="spacingAndGlyphs" transform="translate(72.34 371.27) rotate(-75)">LYS2-CA</text>
<text class="xl" x="0" y="0" font-size="12.2" text-anchor="end" textLength="37.79" lengthAdjust="spacingAndGlyphs" transform="translate(88.03 371.27) rotate(-75)">ILE4-CA</text>
<text class="xl" x="0" y="0" font-size="12.2" text-anchor="end" textLength="41.68" lengthAdjust="spacingAndGlyphs" transform="translate(104.53 371.27) rotate(-75)">LEU6-CA</text>
<text class="xl" x="0" y="0" font-size="12.2" text-anchor="end" textLength="40.59" lengthAdjust="spacingAndGlyphs" transform="translate(120.38 371.27) rotate(-75)">ASP8-CA</text>
<text class="xl" x="0" y="0" font-size="12.2" text-anchor="end" textLength="45.13" lengthAdjust="spacingAndGlyphs" transform="translate(136.96 371.27) rotate(-75)">LYS10-CA</text>
<text class="xl" x="0" y="0" font-size="12.2" text-anchor="end" textLength="48.35" lengthAdjust="spacingAndGlyphs" transform="translate(153.37 371.27) rotate(-75)">MET12-CA</text>
<text class="xl" x="0" y="0" font-size="12.2" text-anchor="end" textLength="45.13" lengthAdjust="spacingAndGlyphs" transform="translate(168.95 371.27) rotate(-75)">LYS14-CA</text>
<text class="xl" x="0" y="0" font-size="12.2" text-anchor="end" textLength="46.8" lengthAdjust="spacingAndGlyphs" transform="translate(185.16 371.27) rotate(-75)">GLY16-CA</text>
<text class="xl" x="0" y="0" font-size="12.2" text-anchor="end" textLength="42.79" lengthAdjust="spacingAndGlyphs" transform="translate(200.64 371.27) rotate(-75)">ILE18-CA</text>
<text class="xl" x="0" y="0" font-size="12.2" text-anchor="end" textLength="47.25" lengthAdjust="spacingAndGlyphs" transform="translate(217.21 371.27) rotate(-75)">ASN20-CA</text>
<text class="xl" x="0" y="0" font-size="12.2" text-anchor="end" textLength="47.8" lengthAdjust="spacingAndGlyphs" transform="translate(233.27 371.27) rotate(-75)">ALA22-CA</text>
<text class="xl" x="0" y="0" font-size="12.2" text-anchor="end" textLength="46.8" lengthAdjust="spacingAndGlyphs" transform="translate(249.14 371.27) rotate(-75)">GLY24-CA</text>
<text class="xl" x="0" y="0" font-size="12.2" text-anchor="end" textLength="47.8" lengthAdjust="spacingAndGlyphs" transform="translate(265.26 371.27) rotate(-75)">ALA26-CA</text>
<text class="xl" x="0" y="0" font-size="12.2" text-anchor="end" textLength="47.25" lengthAdjust="spacingAndGlyphs" transform="translate(281.18 371.27) rotate(-75)">ASN28-CA</text>
<text class="xl" x="0" y="0" font-size="12.2" text-anchor="end" textLength="46.68" lengthAdjust="spacingAndGlyphs" transform="translate(297.1 371.27) rotate(-75)">LEU30-CA</text>
<text class="xl" x="0" y="0" font-size="12.2" text-anchor="end" textLength="45.13" lengthAdjust="spacingAndGlyphs" transform="translate(312.9 371.27) rotate(-75)">LYS32-CA</text>
<text class="xl" x="0" y="0" font-size="12.2" text-anchor="end" textLength="46.8" lengthAdjust="spacingAndGlyphs" transform="translate(329.11 371.27) rotate(-75)">GLY34-CA</text>
<text class="xl" x="0" y="0" font-size="12.2" text-anchor="end" textLength="47.8" lengthAdjust="spacingAndGlyphs" transform="translate(345.23 371.27) rotate(-75)">ALA36-CA</text>
<text class="xl" x="0" y="0" font-size="12.2" text-anchor="end" textLength="47.8" lengthAdjust="spacingAndGlyphs" transform="translate(361.22 371.27) rotate(-75)">GLU38-CA</text>
<text class="xl" x="0" y="0" font-size="12.2" text-anchor="end" textLength="40.13" lengthAdjust="spacingAndGlyphs" transform="translate(393.45 371.27) rotate(-75)">LYS2-CA</text>
<text class="xl" x="0" y="0" font-size="12.2" text-anchor="end" textLength="37.79" lengthAdjust="spacingAndGlyphs" transform="translate(409.11 371.27) rotate(-75)">ILE4-CA</text>
<text class="xl" x="0" y="0" font-size="12.2" text-anchor="end" textLength="41.68" lengthAdjust="spacingAndGlyphs" transform="translate(425.57 371.27) rotate(-75)">LEU6-CA</text>
<text class="xl" x="0" y="0" font-size="12.2" text-anchor="end" textLength="40.59" lengthAdjust="spacingAndGlyphs" transform="translate(441.39 371.27) rotate(-75)">ASP8-CA</text>
<text class="xl" x="0" y="0" font-size="12.2" text-anchor="end" textLength="45.13" lengthAdjust="spacingAndGlyphs" transform="translate(457.93 371.27) rotate(-75)">LYS10-CA</text>
<text class="xl" x="0" y="0" font-size="12.2" text-anchor="end" textLength="48.35" lengthAdjust="spacingAndGlyphs" transform="translate(474.31 371.27) rotate(-75)">MET12-CA</text>
<text class="xl" x="0" y="0" font-size="12.2" text-anchor="end" textLength="45.13" lengthAdjust="spacingAndGlyphs" transform="translate(489.85 371.27) rotate(-75)">LYS14-CA</text>
<text class="xl" x="0" y="0" font-size="12.2" text-anchor="end" textLength="46.8" lengthAdjust="spacingAndGlyphs" transform="translate(506.02 371.27) rotate(-75)">GLY16-CA</text>
<text class="xl" x="0" y="0" font-size="12.2" text-anchor="end" textLength="42.79" lengthAdjust="spacingAndGlyphs" transform="translate(521.46 371.27) rotate(-75)">ILE18-CA</text>
<text class="xl" x="0" y="0" font-size="12.2" text-anchor="end" textLength="47.25" lengthAdjust="spacingAndGlyphs" transform="translate(538 371.27) rotate(-75)">ASN20-CA</text>
<text class="xl" x="0" y="0" font-size="12.2" text-anchor="end" textLength="47.8" lengthAdjust="spacingAndGlyphs" transform="translate(554.02 371.27) rotate(-75)">ALA22-CA</text>
<text class="xl" x="0" y="0" font-size="12.2" text-anchor="end" textLength="46.8" lengthAdjust="spacingAndGlyphs" transform="translate(569.85 371.27) rotate(-75)">GLY24-CA</text>
<text class="xl" x="0" y="0" font-size="12.2" text-anchor="end" textLength="47.8" lengthAdjust="spacingAndGlyphs" transform="translate(585.94 371.27) rotate(-75)">ALA26-CA</text>
<text class="xl" x="0" y="0" font-size="12.2" text-anchor="end" textLength="47.25" lengthAdjust="spacingAndGlyphs" transform="translate(601.83 371.27) rotate(-75)">ASN28-CA</text>
<text class="xl" x="0" y="0" font-size="12.2" text-anchor="end" textLength="46.68" lengthAdjust="spacingAndGlyphs" transform="translate(617.71 371.27) rotate(-75)">LEU30-CA</text>
<text class="xl" x="0" y="0" font-size="12.2" text-anchor="end" textLength="45.13" lengthAdjust="spacingAndGlyphs" transform="translate(633.47 371.27) rotate(-75)">LYS32-CA</text>
<text class="xl" x="0" y="0" font-size="12.2" text-anchor="end" textLength="46.8" lengthAdjust="spacingAndGlyphs" transform="translate(649.64 371.27) rotate(-75)">GLY34-CA</text>
<text class="xl" x="0" y="0" font-size="12.2" text-anchor="end" textLength="47.8" lengthAdjust="spacingAndGlyphs" transform="translate(665.73 371.27) rotate(-75)">ALA36-CA</text>
<text class="xl" x="0" y="0" font-size="12.2" text-anchor="end" textLength="47.8" lengthAdjust="spacingAndGlyphs" transform="translate(681.69 371.27) rotate(-75)">GLU38-CA</text>
<defs><linearGradient id="g62" x1="0" x2="1" y1="0" y2="0"><stop offset="0" stop-color="#053061"/><stop offset="0.1" stop-color="#2166ac"/><stop offset="0.2" stop-color="#4393c3"/><stop offset="0.3" stop-color="#92c5de"/><stop offset="0.4" stop-color="#d1e5f0"/><stop offset="0.5" stop-color="#f7f7f7"/><stop offset="0.6" stop-color="#fddbc7"/><stop offset="0.7" stop-color="#f4a582"/><stop offset="0.8" stop-color="#d6604d"/><stop offset="0.9" stop-color="#b2182b"/><stop offset="1" stop-color="#67001f"/></linearGradient></defs>
<rect x="62" y="33.9" width="291.9" height="14.8" fill="url(#g62)"/>
<text x="66.3" y="25.6" font-size="11.4" text-anchor="middle" textLength="19.23" lengthAdjust="spacingAndGlyphs">−0.2</text>
<text x="137.3" y="25.6" font-size="11.4" text-anchor="middle" textLength="19.23" lengthAdjust="spacingAndGlyphs">−0.1</text>
<text x="208.3" y="25.6" font-size="11.4" text-anchor="middle" textLength="13.25" lengthAdjust="spacingAndGlyphs">0.0</text>
<text x="279.3" y="25.6" font-size="11.4" text-anchor="middle" textLength="13.25" lengthAdjust="spacingAndGlyphs">0.1</text>
<text x="350.3" y="25.6" font-size="11.4" text-anchor="middle" textLength="13.25" lengthAdjust="spacingAndGlyphs">0.2</text>
<path d="M66.3 31.3V33.9M137.3 31.3V33.9M208.3 31.3V33.9M279.3 31.3V33.9M350.3 31.3V33.9" stroke="#000" stroke-width="0.8" fill="none"/>
<text x="208.25" y="13.8" font-size="14.2" text-anchor="middle" textLength="56.9" lengthAdjust="spacingAndGlyphs">Relevance</text>
<defs><linearGradient id="g382" x1="0" x2="1" y1="0" y2="0"><stop offset="0" stop-color="#053061"/><stop offset="0.1" stop-color="#2166ac"/><stop offset="0.2" stop-color="#4393c3"/><stop offset="0.3" stop-color="#92c5de"/><stop offset="0.4" stop-color="#d1e5f0"/><stop offset="0.5" stop-color="#f7f7f7"/><stop offset="0.6" stop-color="#fddbc7"/><stop offset="0.7" stop-color="#f4a582"/><stop offset="0.8" stop-color="#d6604d"/><stop offset="0.9" stop-color="#b2182b"/><stop offset="1" stop-color="#67001f"/></linearGradient></defs>
<rect x="382.9" y="33.9" width="292" height="14.7" fill="url(#g382)"/>
<text x="402" y="25.6" font-size="11.4" text-anchor="middle" textLength="19.23" lengthAdjust="spacingAndGlyphs">−0.3</text>
<text x="444.4" y="25.6" font-size="11.4" text-anchor="middle" textLength="19.23" lengthAdjust="spacingAndGlyphs">−0.2</text>
<text x="486.8" y="25.6" font-size="11.4" text-anchor="middle" textLength="19.23" lengthAdjust="spacingAndGlyphs">−0.1</text>
<text x="529.2" y="25.6" font-size="11.4" text-anchor="middle" textLength="13.25" lengthAdjust="spacingAndGlyphs">0.0</text>
<text x="571.6" y="25.6" font-size="11.4" text-anchor="middle" textLength="13.25" lengthAdjust="spacingAndGlyphs">0.1</text>
<text x="614" y="25.6" font-size="11.4" text-anchor="middle" textLength="13.25" lengthAdjust="spacingAndGlyphs">0.2</text>
<text x="656.4" y="25.6" font-size="11.4" text-anchor="middle" textLength="13.25" lengthAdjust="spacingAndGlyphs">0.3</text>
<path d="M402 31.3V33.9M444.4 31.3V33.9M486.8 31.3V33.9M529.2 31.3V33.9M571.6 31.3V33.9M614 31.3V33.9M656.4 31.3V33.9" stroke="#000" stroke-width="0.8" fill="none"/>
<text x="529.2" y="13.8" font-size="14.2" text-anchor="middle" textLength="117.6" lengthAdjust="spacingAndGlyphs">Relevance Difference</text>
<text x="22.6" y="19.7" font-size="19" text-anchor="start" textLength="13.9" lengthAdjust="spacingAndGlyphs">a)</text>
<text x="373.6" y="19.7" font-size="19" text-anchor="start" textLength="15.2" lengthAdjust="spacingAndGlyphs">b)</text>
<rect x="245" y="88.6" width="45.3" height="21.5" fill="#fff" stroke="#1a1a1a" stroke-width="0.9"/>
<text x="267.65" y="102.65" font-size="14.4" text-anchor="middle" textLength="37.2" lengthAdjust="spacingAndGlyphs">Folded</text>
<rect x="120.4" y="315.6" width="60.8" height="21.5" fill="#fff" stroke="#1a1a1a" stroke-width="0.9"/>
<text x="150.8" y="329.65" font-size="14.4" text-anchor="middle" textLength="52.4" lengthAdjust="spacingAndGlyphs">Unfolded</text>
<rect x="589.5" y="88.5" width="22.2" height="21.7" fill="#fff" stroke="#1a1a1a" stroke-width="0.9"/>
<text x="600.6" y="102.65" font-size="14.4" text-anchor="middle" textLength="13.3" lengthAdjust="spacingAndGlyphs">P1</text>
<rect x="480.1" y="315.4" width="22.2" height="22" fill="#fff" stroke="#1a1a1a" stroke-width="0.9"/>
<text x="491.2" y="329.7" font-size="14.4" text-anchor="middle" textLength="13.6" lengthAdjust="spacingAndGlyphs">P2</text>
<g transform="translate(147.8 80.3) rotate(-45)">
<rect x="-16.75" y="-11.2" width="33.5" height="22.4" fill="#fff" fill-opacity="0.8" stroke="#9acd32" stroke-width="1"/>
<text x="-1.6" y="6.33" font-size="14.5" text-anchor="middle"><tspan font-size="14.5" dx="-1.0" dy="-1.4">β</tspan><tspan dx="4.0" dy="1.4">12</tspan></text>
</g>
<g transform="translate(302.4 73.6) rotate(-45)">
<rect x="-16.75" y="-11.2" width="33.5" height="22.4" fill="#fff" fill-opacity="0.8" stroke="#9acd32" stroke-width="1"/>
<text x="-1.6" y="6.33" font-size="14.5" text-anchor="middle"><tspan font-size="14.5" dx="-1.0" dy="-1.4">β</tspan><tspan dx="4.0" dy="1.4">13</tspan></text>
</g>
<g transform="translate(307.4 232.6) rotate(-45)">
<rect x="-9.9" y="-9.9" width="19.8" height="19.8" fill="#fff" fill-opacity="1" stroke="#1f8f1f" stroke-width="1"/>
<text x="0" y="4.98" font-size="17" text-anchor="middle"><tspan font-style="italic">α</tspan></text>
</g>
</svg>
</body></html>
